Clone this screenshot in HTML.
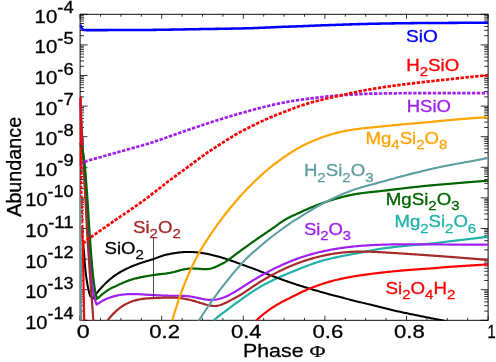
<!DOCTYPE html>
<html><head><meta charset="utf-8"><title>Abundance vs Phase</title>
<style>html,body{margin:0;padding:0;background:#fff;}svg{display:block;will-change:transform;}</style></head><body>
<svg width="496" height="362" viewBox="0 0 496 362">
<rect width="496" height="362" fill="#fff"/>
<defs><clipPath id="c"><rect x="79.50" y="14.30" width="409.20" height="306.40"/></clipPath></defs>
<path d="M80.10 320.30L80.10 315.70 M80.10 14.30L80.10 18.90 M100.50 320.30L100.50 317.90 M100.50 14.30L100.50 16.70 M120.90 320.30L120.90 317.90 M120.90 14.30L120.90 16.70 M141.30 320.30L141.30 317.90 M141.30 14.30L141.30 16.70 M161.70 320.30L161.70 315.70 M161.70 14.30L161.70 18.90 M182.10 320.30L182.10 317.90 M182.10 14.30L182.10 16.70 M202.50 320.30L202.50 317.90 M202.50 14.30L202.50 16.70 M222.90 320.30L222.90 317.90 M222.90 14.30L222.90 16.70 M243.30 320.30L243.30 315.70 M243.30 14.30L243.30 18.90 M263.70 320.30L263.70 317.90 M263.70 14.30L263.70 16.70 M284.10 320.30L284.10 317.90 M284.10 14.30L284.10 16.70 M304.50 320.30L304.50 317.90 M304.50 14.30L304.50 16.70 M324.90 320.30L324.90 315.70 M324.90 14.30L324.90 18.90 M345.30 320.30L345.30 317.90 M345.30 14.30L345.30 16.70 M365.70 320.30L365.70 317.90 M365.70 14.30L365.70 16.70 M386.10 320.30L386.10 317.90 M386.10 14.30L386.10 16.70 M406.50 320.30L406.50 315.70 M406.50 14.30L406.50 18.90 M426.90 320.30L426.90 317.90 M426.90 14.30L426.90 16.70 M447.30 320.30L447.30 317.90 M447.30 14.30L447.30 16.70 M467.70 320.30L467.70 317.90 M467.70 14.30L467.70 16.70 M488.10 320.30L488.10 315.70 M488.10 14.30L488.10 18.90 M80.10 14.30L87.50 14.30 M488.10 14.30L480.70 14.30 M80.10 35.69L84.00 35.69 M488.10 35.69L484.20 35.69 M80.10 30.30L84.00 30.30 M488.10 30.30L484.20 30.30 M80.10 26.48L84.00 26.48 M488.10 26.48L484.20 26.48 M80.10 23.51L84.00 23.51 M488.10 23.51L484.20 23.51 M80.10 21.09L84.00 21.09 M488.10 21.09L484.20 21.09 M80.10 19.04L84.00 19.04 M488.10 19.04L484.20 19.04 M80.10 17.27L84.00 17.27 M488.10 17.27L484.20 17.27 M80.10 15.70L84.00 15.70 M488.10 15.70L484.20 15.70 M80.10 44.90L87.50 44.90 M488.10 44.90L480.70 44.90 M80.10 66.29L84.00 66.29 M488.10 66.29L484.20 66.29 M80.10 60.90L84.00 60.90 M488.10 60.90L484.20 60.90 M80.10 57.08L84.00 57.08 M488.10 57.08L484.20 57.08 M80.10 54.11L84.00 54.11 M488.10 54.11L484.20 54.11 M80.10 51.69L84.00 51.69 M488.10 51.69L484.20 51.69 M80.10 49.64L84.00 49.64 M488.10 49.64L484.20 49.64 M80.10 47.87L84.00 47.87 M488.10 47.87L484.20 47.87 M80.10 46.30L84.00 46.30 M488.10 46.30L484.20 46.30 M80.10 75.50L87.50 75.50 M488.10 75.50L480.70 75.50 M80.10 96.89L84.00 96.89 M488.10 96.89L484.20 96.89 M80.10 91.50L84.00 91.50 M488.10 91.50L484.20 91.50 M80.10 87.68L84.00 87.68 M488.10 87.68L484.20 87.68 M80.10 84.71L84.00 84.71 M488.10 84.71L484.20 84.71 M80.10 82.29L84.00 82.29 M488.10 82.29L484.20 82.29 M80.10 80.24L84.00 80.24 M488.10 80.24L484.20 80.24 M80.10 78.47L84.00 78.47 M488.10 78.47L484.20 78.47 M80.10 76.90L84.00 76.90 M488.10 76.90L484.20 76.90 M80.10 106.10L87.50 106.10 M488.10 106.10L480.70 106.10 M80.10 127.49L84.00 127.49 M488.10 127.49L484.20 127.49 M80.10 122.10L84.00 122.10 M488.10 122.10L484.20 122.10 M80.10 118.28L84.00 118.28 M488.10 118.28L484.20 118.28 M80.10 115.31L84.00 115.31 M488.10 115.31L484.20 115.31 M80.10 112.89L84.00 112.89 M488.10 112.89L484.20 112.89 M80.10 110.84L84.00 110.84 M488.10 110.84L484.20 110.84 M80.10 109.07L84.00 109.07 M488.10 109.07L484.20 109.07 M80.10 107.50L84.00 107.50 M488.10 107.50L484.20 107.50 M80.10 136.70L87.50 136.70 M488.10 136.70L480.70 136.70 M80.10 158.09L84.00 158.09 M488.10 158.09L484.20 158.09 M80.10 152.70L84.00 152.70 M488.10 152.70L484.20 152.70 M80.10 148.88L84.00 148.88 M488.10 148.88L484.20 148.88 M80.10 145.91L84.00 145.91 M488.10 145.91L484.20 145.91 M80.10 143.49L84.00 143.49 M488.10 143.49L484.20 143.49 M80.10 141.44L84.00 141.44 M488.10 141.44L484.20 141.44 M80.10 139.67L84.00 139.67 M488.10 139.67L484.20 139.67 M80.10 138.10L84.00 138.10 M488.10 138.10L484.20 138.10 M80.10 167.30L87.50 167.30 M488.10 167.30L480.70 167.30 M80.10 188.69L84.00 188.69 M488.10 188.69L484.20 188.69 M80.10 183.30L84.00 183.30 M488.10 183.30L484.20 183.30 M80.10 179.48L84.00 179.48 M488.10 179.48L484.20 179.48 M80.10 176.51L84.00 176.51 M488.10 176.51L484.20 176.51 M80.10 174.09L84.00 174.09 M488.10 174.09L484.20 174.09 M80.10 172.04L84.00 172.04 M488.10 172.04L484.20 172.04 M80.10 170.27L84.00 170.27 M488.10 170.27L484.20 170.27 M80.10 168.70L84.00 168.70 M488.10 168.70L484.20 168.70 M80.10 197.90L87.50 197.90 M488.10 197.90L480.70 197.90 M80.10 219.29L84.00 219.29 M488.10 219.29L484.20 219.29 M80.10 213.90L84.00 213.90 M488.10 213.90L484.20 213.90 M80.10 210.08L84.00 210.08 M488.10 210.08L484.20 210.08 M80.10 207.11L84.00 207.11 M488.10 207.11L484.20 207.11 M80.10 204.69L84.00 204.69 M488.10 204.69L484.20 204.69 M80.10 202.64L84.00 202.64 M488.10 202.64L484.20 202.64 M80.10 200.87L84.00 200.87 M488.10 200.87L484.20 200.87 M80.10 199.30L84.00 199.30 M488.10 199.30L484.20 199.30 M80.10 228.50L87.50 228.50 M488.10 228.50L480.70 228.50 M80.10 249.89L84.00 249.89 M488.10 249.89L484.20 249.89 M80.10 244.50L84.00 244.50 M488.10 244.50L484.20 244.50 M80.10 240.68L84.00 240.68 M488.10 240.68L484.20 240.68 M80.10 237.71L84.00 237.71 M488.10 237.71L484.20 237.71 M80.10 235.29L84.00 235.29 M488.10 235.29L484.20 235.29 M80.10 233.24L84.00 233.24 M488.10 233.24L484.20 233.24 M80.10 231.47L84.00 231.47 M488.10 231.47L484.20 231.47 M80.10 229.90L84.00 229.90 M488.10 229.90L484.20 229.90 M80.10 259.10L87.50 259.10 M488.10 259.10L480.70 259.10 M80.10 280.49L84.00 280.49 M488.10 280.49L484.20 280.49 M80.10 275.10L84.00 275.10 M488.10 275.10L484.20 275.10 M80.10 271.28L84.00 271.28 M488.10 271.28L484.20 271.28 M80.10 268.31L84.00 268.31 M488.10 268.31L484.20 268.31 M80.10 265.89L84.00 265.89 M488.10 265.89L484.20 265.89 M80.10 263.84L84.00 263.84 M488.10 263.84L484.20 263.84 M80.10 262.07L84.00 262.07 M488.10 262.07L484.20 262.07 M80.10 260.50L84.00 260.50 M488.10 260.50L484.20 260.50 M80.10 289.70L87.50 289.70 M488.10 289.70L480.70 289.70 M80.10 311.09L84.00 311.09 M488.10 311.09L484.20 311.09 M80.10 305.70L84.00 305.70 M488.10 305.70L484.20 305.70 M80.10 301.88L84.00 301.88 M488.10 301.88L484.20 301.88 M80.10 298.91L84.00 298.91 M488.10 298.91L484.20 298.91 M80.10 296.49L84.00 296.49 M488.10 296.49L484.20 296.49 M80.10 294.44L84.00 294.44 M488.10 294.44L484.20 294.44 M80.10 292.67L84.00 292.67 M488.10 292.67L484.20 292.67 M80.10 291.10L84.00 291.10 M488.10 291.10L484.20 291.10 M80.10 320.30L87.50 320.30 M488.10 320.30L480.70 320.30" stroke="#000" stroke-width="0.80" fill="none"/>
<rect x="80.10" y="14.30" width="408.00" height="306.00" fill="none" stroke="#000" stroke-width="0.95"/>
<g clip-path="url(#c)" fill="none" stroke-linejoin="round" stroke-linecap="butt">
<path d="M213.75 320.50 L214.75 319.51 L215.75 318.59 L216.75 317.73 L217.76 316.92 L218.76 316.14 L219.76 315.40 L220.76 314.67 L221.76 313.94 L222.76 313.22 L223.76 312.48 L224.76 311.71 L225.77 310.92 L226.77 310.14 L227.77 309.38 L228.77 308.62 L229.77 307.87 L230.77 307.12 L231.77 306.38 L232.77 305.65 L233.78 304.92 L234.78 304.19 L235.78 303.47 L236.78 302.75 L237.78 302.02 L238.78 301.30 L239.78 300.57 L240.78 299.84 L241.79 299.10 L242.79 298.37 L243.79 297.65 L244.79 296.93 L245.79 296.21 L246.79 295.51 L247.79 294.80 L248.79 294.11 L249.80 293.42 L250.80 292.74 L251.80 292.07 L252.80 291.41 L253.80 290.75 L254.80 290.11 L255.80 289.47 L256.80 288.85 L257.81 288.23 L258.81 287.63 L259.81 287.04 L260.81 286.46 L261.81 285.89 L262.81 285.33 L263.81 284.78 L264.82 284.24 L265.82 283.70 L266.82 283.18 L267.82 282.66 L268.82 282.15 L269.82 281.65 L270.82 281.16 L271.82 280.67 L272.83 280.19 L273.83 279.72 L274.83 279.25 L275.83 278.79 L276.83 278.33 L277.83 277.88 L278.83 277.43 L279.83 276.99 L280.84 276.55 L281.84 276.12 L282.84 275.69 L283.84 275.26 L284.84 274.84 L285.84 274.42 L286.84 274.00 L287.84 273.59 L288.85 273.17 L289.85 272.76 L290.85 272.35 L291.85 271.94 L292.85 271.53 L293.85 271.12 L294.85 270.71 L295.85 270.30 L296.86 269.89 L297.86 269.49 L298.86 269.08 L299.86 268.68 L300.86 268.27 L301.86 267.87 L302.86 267.48 L303.86 267.08 L304.87 266.69 L305.87 266.31 L306.87 265.92 L307.87 265.54 L308.87 265.17 L309.87 264.80 L310.87 264.43 L311.88 264.07 L312.88 263.71 L313.88 263.37 L314.88 263.02 L315.88 262.69 L316.88 262.36 L317.88 262.03 L318.88 261.72 L319.89 261.41 L320.89 261.11 L321.89 260.81 L322.89 260.53 L323.89 260.26 L324.89 259.99 L325.89 259.73 L326.89 259.47 L327.90 259.22 L328.90 258.98 L329.90 258.74 L330.90 258.51 L331.90 258.28 L332.90 258.05 L333.90 257.83 L334.90 257.61 L335.91 257.39 L336.91 257.17 L337.91 256.95 L338.91 256.73 L339.91 256.52 L340.91 256.31 L341.91 256.11 L342.91 255.91 L343.92 255.71 L344.92 255.52 L345.92 255.33 L346.92 255.14 L347.92 254.95 L348.92 254.76 L349.92 254.58 L350.93 254.39 L351.93 254.21 L352.93 254.03 L353.93 253.85 L354.93 253.67 L355.93 253.49 L356.93 253.30 L357.93 253.12 L358.94 252.94 L359.94 252.76 L360.94 252.57 L361.94 252.37 L362.94 252.18 L363.94 251.98 L364.94 251.78 L365.94 251.58 L366.95 251.38 L367.95 251.18 L368.95 250.97 L369.95 250.77 L370.95 250.57 L371.95 250.37 L372.95 250.18 L373.95 249.98 L374.96 249.79 L375.96 249.61 L376.96 249.42 L377.96 249.24 L378.96 249.07 L379.96 248.91 L380.96 248.74 L381.96 248.59 L382.97 248.44 L383.97 248.31 L384.97 248.17 L385.97 248.04 L386.97 247.91 L387.97 247.79 L388.97 247.66 L389.97 247.54 L390.98 247.42 L391.98 247.30 L392.98 247.18 L393.98 247.07 L394.98 246.95 L395.98 246.84 L396.98 246.73 L397.99 246.62 L398.99 246.51 L399.99 246.41 L400.99 246.30 L401.99 246.20 L402.99 246.10 L403.99 246.00 L404.99 245.90 L406.00 245.80 L407.00 245.70 L408.00 245.60 L409.00 245.51 L410.00 245.41 L411.00 245.32 L412.00 245.23 L413.00 245.14 L414.01 245.05 L415.01 244.96 L416.01 244.87 L417.01 244.78 L418.01 244.69 L419.01 244.60 L420.01 244.51 L421.01 244.43 L422.02 244.34 L423.02 244.25 L424.02 244.17 L425.02 244.08 L426.02 244.00 L427.02 243.91 L428.02 243.82 L429.02 243.74 L430.03 243.65 L431.03 243.56 L432.03 243.46 L433.03 243.36 L434.03 243.25 L435.03 243.13 L436.03 243.01 L437.03 242.88 L438.04 242.75 L439.04 242.62 L440.04 242.49 L441.04 242.36 L442.04 242.22 L443.04 242.10 L444.04 241.97 L445.05 241.84 L446.05 241.73 L447.05 241.61 L448.05 241.49 L449.05 241.38 L450.05 241.26 L451.05 241.14 L452.05 241.02 L453.06 240.91 L454.06 240.79 L455.06 240.67 L456.06 240.56 L457.06 240.44 L458.06 240.32 L459.06 240.21 L460.06 240.09 L461.07 239.97 L462.07 239.85 L463.07 239.74 L464.07 239.62 L465.07 239.50 L466.07 239.38 L467.07 239.26 L468.07 239.14 L469.08 239.02 L470.08 238.90 L471.08 238.78 L472.08 238.66 L473.08 238.54 L474.08 238.42 L475.08 238.30 L476.08 238.18 L477.09 238.05 L478.09 237.93 L479.09 237.81 L480.09 237.68 L481.09 237.56 L482.09 237.43 L483.09 237.30 L484.09 237.18 L485.10 237.05 L486.10 236.92 L487.10 236.79 L488.10 236.67" stroke="#20b2aa" stroke-width="2.20"/>
<path d="M82.90 242.00 L83.17 244.01 L83.43 246.02 L83.63 248.03 L83.82 250.04 L83.98 252.05 L84.14 254.06 L84.28 256.07 L84.42 258.09 L84.56 260.10 L84.70 262.11 L84.86 264.12 L85.02 266.13 L85.21 268.14 L85.42 270.15 L85.64 272.16 L85.89 274.17 L86.15 276.18 L86.43 278.19 L86.73 280.20 L87.06 282.21 L87.41 284.23 L87.79 286.24 L88.19 288.25 L88.63 290.26 L89.09 292.27 L89.62 294.28 L90.48 296.29 L93.00 298.30 L93.00 298.28 L94.00 296.88 L95.00 295.52 L96.00 294.20 L97.00 292.91 L98.00 291.66 L99.00 290.45 L100.00 289.27 L101.00 288.13 L102.00 287.01 L103.00 285.94 L104.00 284.89 L105.00 283.87 L106.00 282.89 L107.00 281.94 L108.00 281.03 L109.00 280.14 L110.00 279.29 L111.00 278.47 L112.00 277.68 L113.00 276.91 L114.00 276.17 L115.00 275.46 L116.00 274.77 L117.00 274.11 L118.00 273.47 L119.00 272.85 L120.00 272.24 L121.00 271.66 L122.00 271.10 L123.00 270.55 L124.00 270.03 L125.00 269.51 L126.00 269.01 L127.00 268.53 L128.00 268.05 L129.00 267.59 L130.00 267.14 L131.00 266.71 L132.00 266.28 L133.00 265.87 L134.00 265.47 L135.00 265.09 L136.00 264.71 L137.00 264.34 L138.00 263.98 L139.00 263.63 L140.00 263.28 L141.00 262.95 L142.00 262.61 L143.00 262.29 L144.00 261.96 L145.00 261.65 L146.00 261.33 L147.00 261.03 L148.00 260.72 L149.00 260.42 L150.00 260.12 L151.00 259.82 L152.00 259.52 L153.00 259.21 L154.00 258.88 L155.00 258.52 L156.00 258.15 L157.00 257.77 L158.00 257.38 L159.00 257.00 L160.00 256.62 L161.00 256.26 L162.00 255.92 L163.00 255.60 L164.00 255.31 L165.00 255.05 L166.00 254.82 L167.00 254.59 L168.00 254.37 L169.00 254.16 L170.00 253.95 L171.00 253.75 L172.00 253.56 L173.00 253.38 L174.00 253.20 L175.00 253.04 L176.00 252.89 L177.00 252.74 L178.00 252.61 L179.00 252.49 L180.00 252.37 L181.00 252.27 L182.00 252.19 L183.00 252.11 L184.00 252.05 L185.00 252.00 L186.00 251.96 L187.00 251.94 L188.00 251.93 L189.00 251.93 L190.00 251.94 L191.00 251.97 L192.00 252.00 L193.00 252.05 L194.00 252.11 L195.00 252.19 L196.00 252.27 L197.00 252.36 L198.00 252.46 L199.00 252.58 L200.00 252.70 L201.00 252.84 L202.00 252.98 L203.00 253.14 L204.00 253.30 L205.00 253.47 L206.00 253.65 L207.00 253.84 L208.00 254.04 L209.00 254.25 L210.00 254.47 L211.00 254.69 L212.00 254.92 L213.00 255.16 L214.00 255.41 L215.00 255.66 L216.00 255.93 L217.00 256.19 L218.00 256.47 L219.00 256.75 L220.00 257.04 L221.00 257.33 L222.00 257.63 L223.00 257.94 L224.00 258.25 L225.00 258.57 L226.00 258.89 L227.00 259.22 L228.00 259.55 L229.00 259.88 L230.00 260.23 L231.00 260.57 L232.00 260.92 L233.00 261.27 L234.00 261.63 L235.00 261.99 L236.00 262.35 L237.00 262.72 L238.00 263.09 L239.00 263.46 L240.00 263.83 L241.00 264.20 L242.00 264.57 L243.00 264.94 L244.00 265.30 L245.00 265.66 L246.00 266.02 L247.00 266.38 L248.00 266.73 L249.00 267.09 L250.00 267.45 L251.00 267.80 L252.00 268.16 L253.00 268.53 L254.00 268.89 L255.00 269.26 L256.00 269.63 L257.00 270.01 L258.00 270.40 L259.00 270.78 L260.00 271.18 L261.00 271.58 L262.00 271.98 L263.00 272.38 L264.00 272.77 L265.00 273.17 L266.00 273.56 L267.00 273.95 L268.00 274.34 L269.00 274.73 L270.00 275.12 L271.00 275.50 L272.00 275.88 L273.00 276.26 L274.00 276.64 L275.00 277.01 L276.00 277.38 L277.00 277.75 L278.00 278.12 L279.00 278.48 L280.00 278.85 L281.00 279.21 L282.00 279.56 L283.00 279.92 L284.00 280.27 L285.00 280.63 L286.00 280.98 L287.00 281.32 L288.00 281.67 L289.00 282.01 L290.00 282.35 L291.00 282.69 L292.00 283.03 L293.00 283.36 L294.00 283.70 L295.00 284.03 L296.00 284.36 L297.00 284.68 L298.00 285.01 L299.00 285.33 L300.00 285.65 L301.00 285.97 L302.00 286.29 L303.00 286.60 L304.00 286.91 L305.00 287.23 L306.00 287.54 L307.00 287.84 L308.00 288.15 L309.00 288.45 L310.00 288.75 L311.00 289.05 L312.00 289.35 L313.00 289.65 L314.00 289.94 L315.00 290.23 L316.00 290.52 L317.00 290.81 L318.00 291.10 L319.00 291.39 L320.00 291.67 L321.00 291.95 L322.00 292.23 L323.00 292.51 L324.00 292.79 L325.00 293.07 L326.00 293.34 L327.00 293.62 L328.00 293.89 L329.00 294.16 L330.00 294.43 L331.00 294.70 L332.00 294.97 L333.00 295.24 L334.00 295.50 L335.00 295.77 L336.00 296.03 L337.00 296.30 L338.00 296.56 L339.00 296.82 L340.00 297.08 L341.00 297.34 L342.00 297.60 L343.00 297.86 L344.00 298.11 L345.00 298.37 L346.00 298.62 L347.00 298.88 L348.00 299.13 L349.00 299.38 L350.00 299.64 L351.00 299.89 L352.00 300.14 L353.00 300.39 L354.00 300.64 L355.00 300.89 L356.00 301.14 L357.00 301.39 L358.00 301.64 L359.00 301.89 L360.00 302.13 L361.00 302.38 L362.00 302.63 L363.00 302.88 L364.00 303.13 L365.00 303.37 L366.00 303.62 L367.00 303.87 L368.00 304.12 L369.00 304.36 L370.00 304.61 L371.00 304.85 L372.00 305.10 L373.00 305.34 L374.00 305.59 L375.00 305.83 L376.00 306.08 L377.00 306.32 L378.00 306.56 L379.00 306.80 L380.00 307.05 L381.00 307.29 L382.00 307.53 L383.00 307.77 L384.00 308.01 L385.00 308.25 L386.00 308.49 L387.00 308.73 L388.00 308.98 L389.00 309.23 L390.00 309.47 L391.00 309.72 L392.00 309.96 L393.00 310.20 L394.00 310.44 L395.00 310.68 L396.00 310.92 L397.00 311.15 L398.00 311.38 L399.00 311.61 L400.00 311.83 L401.00 312.04 L402.00 312.26 L403.00 312.47 L404.00 312.69 L405.00 312.90 L406.00 313.11 L407.00 313.32 L408.00 313.52 L409.00 313.73 L410.00 313.94 L411.00 314.14 L412.00 314.35 L413.00 314.55 L414.00 314.75 L415.00 314.96 L416.00 315.16 L417.00 315.36 L418.00 315.56 L419.00 315.76 L420.00 315.97 L421.00 316.17 L422.00 316.37 L423.00 316.57 L424.00 316.78 L425.00 316.98 L426.00 317.18 L427.00 317.39 L428.00 317.59 L429.00 317.80 L430.00 318.01 L431.00 318.21 L432.00 318.41 L433.00 318.60 L434.00 318.79 L435.00 318.97 L436.00 319.16 L437.00 319.34 L438.00 319.52 L439.00 319.71 L440.00 319.90 L441.00 320.09 L442.00 320.29 L443.00 320.49 L444.00 320.70 L445.00 320.92 L446.00 321.15" stroke="#000000" stroke-width="2.05"/>
<path d="M80.70 97.00 L80.90 140.00 L80.60 166.00" stroke="#ff0000" stroke-width="2.20"/>
<path d="M80.40 226.00 L80.75 228.02 L81.09 230.04 L81.42 232.06 L81.74 234.09 L82.02 236.11 L82.28 238.13 L82.51 240.15 L82.69 242.17 L82.82 244.19 L82.91 246.21 L82.96 248.23 L83.01 250.26 L83.05 252.28 L83.09 254.30 L83.12 256.32 L83.14 258.34 L83.17 260.36 L83.19 262.38 L83.22 264.40 L83.25 266.43 L83.27 268.45 L83.31 270.47 L83.34 272.49 L83.38 274.51 L83.41 276.53 L83.45 278.55 L83.48 280.57 L83.52 282.60 L83.55 284.62 L83.59 286.64 L83.62 288.66 L83.66 290.68 L83.69 292.70 L83.73 294.72 L83.76 296.74 L83.80 298.77 L83.84 300.79 L83.87 302.81 L83.91 304.83 L83.94 306.85 L83.98 308.87 L84.02 310.89 L84.05 312.91 L84.09 314.94 L84.13 316.96 L84.16 318.98 L84.20 321.00" stroke="#ff0000" stroke-width="2.20"/>
<path d="M255.80 320.96 L256.80 320.00 L257.80 319.06 L258.80 318.14 L259.81 317.25 L260.81 316.37 L261.81 315.52 L262.81 314.69 L263.81 313.88 L264.81 313.09 L265.81 312.31 L266.81 311.56 L267.82 310.82 L268.82 310.10 L269.82 309.39 L270.82 308.70 L271.82 308.03 L272.82 307.37 L273.82 306.72 L274.82 306.09 L275.83 305.47 L276.83 304.86 L277.83 304.27 L278.83 303.68 L279.83 303.11 L280.83 302.54 L281.83 301.99 L282.83 301.45 L283.84 300.95 L284.84 300.48 L285.84 300.02 L286.84 299.55 L287.84 299.09 L288.84 298.60 L289.84 298.07 L290.85 297.53 L291.85 296.99 L292.85 296.46 L293.85 295.93 L294.85 295.42 L295.85 294.91 L296.85 294.40 L297.85 293.91 L298.86 293.42 L299.86 292.94 L300.86 292.47 L301.86 292.00 L302.86 291.54 L303.86 291.09 L304.86 290.64 L305.86 290.20 L306.87 289.77 L307.87 289.34 L308.87 288.92 L309.87 288.51 L310.87 288.11 L311.87 287.71 L312.87 287.31 L313.88 286.93 L314.88 286.55 L315.88 286.18 L316.88 285.81 L317.88 285.45 L318.88 285.10 L319.88 284.76 L320.88 284.42 L321.89 284.08 L322.89 283.76 L323.89 283.44 L324.89 283.12 L325.89 282.80 L326.89 282.49 L327.89 282.19 L328.89 281.89 L329.90 281.60 L330.90 281.32 L331.90 281.04 L332.90 280.77 L333.90 280.51 L334.90 280.26 L335.90 280.01 L336.90 279.77 L337.91 279.54 L338.91 279.31 L339.91 279.08 L340.91 278.86 L341.91 278.64 L342.91 278.43 L343.91 278.22 L344.92 278.02 L345.92 277.82 L346.92 277.63 L347.92 277.44 L348.92 277.25 L349.92 277.07 L350.92 276.89 L351.92 276.71 L352.93 276.54 L353.93 276.37 L354.93 276.20 L355.93 276.04 L356.93 275.88 L357.93 275.72 L358.93 275.57 L359.93 275.42 L360.94 275.27 L361.94 275.12 L362.94 274.98 L363.94 274.84 L364.94 274.70 L365.94 274.56 L366.94 274.42 L367.94 274.29 L368.95 274.16 L369.95 274.03 L370.95 273.90 L371.95 273.77 L372.95 273.65 L373.95 273.52 L374.95 273.40 L375.96 273.28 L376.96 273.16 L377.96 273.04 L378.96 272.92 L379.96 272.80 L380.96 272.69 L381.96 272.57 L382.96 272.46 L383.97 272.34 L384.97 272.23 L385.97 272.12 L386.97 272.01 L387.97 271.90 L388.97 271.80 L389.97 271.69 L390.97 271.59 L391.98 271.48 L392.98 271.38 L393.98 271.28 L394.98 271.19 L395.98 271.09 L396.98 271.00 L397.98 270.90 L398.98 270.81 L399.99 270.72 L400.99 270.63 L401.99 270.54 L402.99 270.45 L403.99 270.36 L404.99 270.28 L405.99 270.20 L407.00 270.11 L408.00 270.03 L409.00 269.95 L410.00 269.87 L411.00 269.79 L412.00 269.72 L413.00 269.64 L414.00 269.57 L415.01 269.49 L416.01 269.42 L417.01 269.35 L418.01 269.28 L419.01 269.21 L420.01 269.14 L421.01 269.07 L422.01 269.00 L423.02 268.94 L424.02 268.87 L425.02 268.81 L426.02 268.74 L427.02 268.68 L428.02 268.62 L429.02 268.56 L430.03 268.50 L431.03 268.43 L432.03 268.36 L433.03 268.28 L434.03 268.20 L435.03 268.12 L436.03 268.03 L437.03 267.93 L438.04 267.84 L439.04 267.74 L440.04 267.65 L441.04 267.55 L442.04 267.46 L443.04 267.37 L444.04 267.28 L445.04 267.20 L446.05 267.12 L447.05 267.04 L448.05 266.97 L449.05 266.90 L450.05 266.82 L451.05 266.75 L452.05 266.68 L453.05 266.61 L454.06 266.55 L455.06 266.48 L456.06 266.41 L457.06 266.35 L458.06 266.28 L459.06 266.22 L460.06 266.15 L461.07 266.09 L462.07 266.03 L463.07 265.97 L464.07 265.90 L465.07 265.84 L466.07 265.78 L467.07 265.72 L468.07 265.66 L469.08 265.59 L470.08 265.53 L471.08 265.47 L472.08 265.41 L473.08 265.35 L474.08 265.28 L475.08 265.22 L476.08 265.16 L477.09 265.09 L478.09 265.03 L479.09 264.96 L480.09 264.90 L481.09 264.83 L482.09 264.76 L483.09 264.69 L484.09 264.63 L485.10 264.56 L486.10 264.48 L487.10 264.41 L488.10 264.34" stroke="#ff0000" stroke-width="2.20"/>
<path d="M80.20 100.00 L80.31 102.01 L80.42 104.01 L80.53 106.02 L80.64 108.02 L80.75 110.03 L80.86 112.04 L80.97 114.04 L81.08 116.05 L81.19 118.05 L81.30 120.06 L81.41 122.06 L81.52 124.07 L81.63 126.08 L81.74 128.08 L81.85 130.09 L81.96 132.09 L82.07 134.10 L82.18 136.11 L82.30 138.11 L82.41 140.12 L82.52 142.12 L82.63 144.13 L82.74 146.14 L82.85 148.14 L82.96 150.15 L83.06 152.15 L83.17 154.16 L83.28 156.16 L83.39 158.17 L83.50 160.18 L83.61 162.18 L83.72 164.19 L83.83 166.19 L83.94 168.20 L84.05 170.21 L84.16 172.21 L84.27 174.22 L84.39 176.22 L84.50 178.23 L84.62 180.24 L84.73 182.24 L84.85 184.25 L84.97 186.25 L85.09 188.26 L85.22 190.26 L85.34 192.27 L85.47 194.28 L85.59 196.28 L85.72 198.29 L85.85 200.29 L85.98 202.30 L86.11 204.31 L86.25 206.31 L86.38 208.32 L86.52 210.32 L86.66 212.33 L86.79 214.34 L86.93 216.34 L87.07 218.35 L87.21 220.35 L87.35 222.36 L87.50 224.36 L87.64 226.37 L87.78 228.38 L87.93 230.38 L88.07 232.39 L88.22 234.39 L88.36 236.40 L88.51 238.41 L88.65 240.41 L88.80 242.42 L88.95 244.42 L89.10 246.43 L89.25 248.44 L89.40 250.44 L89.56 252.45 L89.71 254.45 L89.87 256.46 L90.03 258.46 L90.19 260.47 L90.36 262.48 L90.52 264.48 L90.69 266.49 L90.87 268.49 L91.04 270.50 L91.21 272.51 L91.38 274.51 L91.54 276.52 L91.71 278.52 L91.88 280.53 L92.07 282.54 L92.26 284.54 L92.48 286.55 L92.72 288.55 L92.99 290.56 L93.29 292.56 L93.68 294.57 L94.15 296.58 L94.70 298.58 L95.30 300.59 L95.94 302.59 L96.60 304.60 L96.60 304.60 L97.60 303.90 L98.60 303.22 L99.60 302.58 L100.61 301.97 L101.61 301.38 L102.61 300.82 L103.61 300.29 L104.61 299.79 L105.61 299.32 L106.61 298.86 L107.61 298.44 L108.62 298.04 L109.62 297.66 L110.62 297.30 L111.62 296.97 L112.62 296.66 L113.62 296.37 L114.62 296.10 L115.62 295.85 L116.63 295.62 L117.63 295.41 L118.63 295.22 L119.63 295.04 L120.63 294.88 L121.63 294.74 L122.63 294.62 L123.63 294.50 L124.64 294.41 L125.64 294.32 L126.64 294.25 L127.64 294.20 L128.64 294.15 L129.64 294.12 L130.64 294.09 L131.64 294.08 L132.65 294.08 L133.65 294.08 L134.65 294.09 L135.65 294.11 L136.65 294.14 L137.65 294.18 L138.65 294.22 L139.65 294.26 L140.66 294.31 L141.66 294.36 L142.66 294.42 L143.66 294.48 L144.66 294.54 L145.66 294.60 L146.66 294.66 L147.67 294.73 L148.67 294.79 L149.67 294.85 L150.67 294.92 L151.67 294.98 L152.67 295.04 L153.67 295.10 L154.67 295.16 L155.68 295.21 L156.68 295.27 L157.68 295.32 L158.68 295.37 L159.68 295.42 L160.68 295.47 L161.68 295.51 L162.68 295.56 L163.69 295.59 L164.69 295.63 L165.69 295.66 L166.69 295.69 L167.69 295.71 L168.69 295.73 L169.69 295.75 L170.69 295.76 L171.70 295.76 L172.70 295.76 L173.70 295.76 L174.70 295.76 L175.70 295.75 L176.70 295.75 L177.70 295.75 L178.70 295.75 L179.71 295.76 L180.71 295.77 L181.71 295.79 L182.71 295.82 L183.71 295.87 L184.71 295.92 L185.71 295.99 L186.72 296.07 L187.72 296.18 L188.72 296.30 L189.72 296.43 L190.72 296.58 L191.72 296.74 L192.72 296.91 L193.72 297.09 L194.73 297.29 L195.73 297.49 L196.73 297.69 L197.73 297.91 L198.73 298.12 L199.73 298.34 L200.73 298.56 L201.73 298.77 L202.74 298.97 L203.74 299.16 L204.74 299.34 L205.74 299.50 L206.74 299.64 L207.74 299.76 L208.74 299.86 L209.74 299.93 L210.75 299.97 L211.75 299.97 L212.75 299.94 L213.75 299.87 L214.75 299.77 L215.75 299.63 L216.75 299.46 L217.75 299.26 L218.76 299.03 L219.76 298.76 L220.76 298.47 L221.76 298.14 L222.76 297.79 L223.76 297.41 L224.76 297.01 L225.76 296.58 L226.77 296.13 L227.77 295.66 L228.77 295.16 L229.77 294.65 L230.77 294.12 L231.77 293.57 L232.77 293.01 L233.78 292.44 L234.78 291.85 L235.78 291.25 L236.78 290.64 L237.78 290.02 L238.78 289.39 L239.78 288.76 L240.78 288.13 L241.79 287.48 L242.79 286.84 L243.79 286.20 L244.79 285.55 L245.79 284.91 L246.79 284.27 L247.79 283.64 L248.79 283.00 L249.80 282.38 L250.80 281.76 L251.80 281.14 L252.80 280.53 L253.80 279.92 L254.80 279.32 L255.80 278.72 L256.80 278.13 L257.81 277.54 L258.81 276.96 L259.81 276.38 L260.81 275.81 L261.81 275.24 L262.81 274.68 L263.81 274.12 L264.81 273.57 L265.82 273.02 L266.82 272.48 L267.82 271.94 L268.82 271.41 L269.82 270.89 L270.82 270.37 L271.82 269.86 L272.83 269.35 L273.83 268.84 L274.83 268.35 L275.83 267.85 L276.83 267.37 L277.83 266.89 L278.83 266.41 L279.83 265.94 L280.84 265.48 L281.84 265.02 L282.84 264.57 L283.84 264.13 L284.84 263.69 L285.84 263.25 L286.84 262.82 L287.84 262.40 L288.85 261.99 L289.85 261.58 L290.85 261.18 L291.85 260.78 L292.85 260.39 L293.85 260.00 L294.85 259.63 L295.85 259.26 L296.86 258.89 L297.86 258.53 L298.86 258.18 L299.86 257.83 L300.86 257.49 L301.86 257.15 L302.86 256.82 L303.86 256.50 L304.87 256.18 L305.87 255.86 L306.87 255.56 L307.87 255.26 L308.87 254.96 L309.87 254.67 L310.87 254.38 L311.87 254.10 L312.88 253.83 L313.88 253.56 L314.88 253.29 L315.88 253.03 L316.88 252.78 L317.88 252.53 L318.88 252.29 L319.89 252.05 L320.89 251.81 L321.89 251.58 L322.89 251.36 L323.89 251.14 L324.89 250.92 L325.89 250.71 L326.89 250.51 L327.90 250.30 L328.90 250.11 L329.90 249.91 L330.90 249.73 L331.90 249.54 L332.90 249.36 L333.90 249.19 L334.90 249.01 L335.91 248.85 L336.91 248.68 L337.91 248.52 L338.91 248.37 L339.91 248.22 L340.91 248.07 L341.91 247.93 L342.91 247.79 L343.92 247.65 L344.92 247.52 L345.92 247.39 L346.92 247.26 L347.92 247.14 L348.92 247.02 L349.92 246.91 L350.92 246.79 L351.93 246.69 L352.93 246.58 L353.93 246.48 L354.93 246.38 L355.93 246.28 L356.93 246.19 L357.93 246.10 L358.94 246.01 L359.94 245.93 L360.94 245.85 L361.94 245.77 L362.94 245.69 L363.94 245.62 L364.94 245.55 L365.94 245.48 L366.95 245.41 L367.95 245.35 L368.95 245.29 L369.95 245.23 L370.95 245.18 L371.95 245.12 L372.95 245.07 L373.95 245.02 L374.96 244.97 L375.96 244.93 L376.96 244.88 L377.96 244.84 L378.96 244.80 L379.96 244.77 L380.96 244.73 L381.96 244.70 L382.97 244.66 L383.97 244.63 L384.97 244.60 L385.97 244.58 L386.97 244.55 L387.97 244.52 L388.97 244.50 L389.97 244.48 L390.98 244.46 L391.98 244.44 L392.98 244.42 L393.98 244.40 L394.98 244.39 L395.98 244.37 L396.98 244.36 L397.98 244.35 L398.99 244.33 L399.99 244.32 L400.99 244.31 L401.99 244.30 L402.99 244.30 L403.99 244.29 L404.99 244.28 L406.00 244.28 L407.00 244.27 L408.00 244.27 L409.00 244.27 L410.00 244.26 L411.00 244.26 L412.00 244.26 L413.00 244.26 L414.01 244.26 L415.01 244.26 L416.01 244.27 L417.01 244.27 L418.01 244.27 L419.01 244.28 L420.01 244.28 L421.01 244.29 L422.02 244.29 L423.02 244.30 L424.02 244.30 L425.02 244.31 L426.02 244.32 L427.02 244.32 L428.02 244.33 L429.02 244.34 L430.03 244.35 L431.03 244.36 L432.03 244.37 L433.03 244.38 L434.03 244.39 L435.03 244.40 L436.03 244.41 L437.03 244.42 L438.04 244.43 L439.04 244.44 L440.04 244.45 L441.04 244.46 L442.04 244.47 L443.04 244.48 L444.04 244.49 L445.05 244.50 L446.05 244.51 L447.05 244.52 L448.05 244.54 L449.05 244.55 L450.05 244.56 L451.05 244.57 L452.05 244.58 L453.06 244.59 L454.06 244.60 L455.06 244.61 L456.06 244.62 L457.06 244.62 L458.06 244.63 L459.06 244.64 L460.06 244.65 L461.07 244.66 L462.07 244.66 L463.07 244.67 L464.07 244.68 L465.07 244.68 L466.07 244.69 L467.07 244.69 L468.07 244.70 L469.08 244.70 L470.08 244.71 L471.08 244.71 L472.08 244.71 L473.08 244.71 L474.08 244.71 L475.08 244.71 L476.08 244.71 L477.09 244.71 L478.09 244.71 L479.09 244.71 L480.09 244.70 L481.09 244.70 L482.09 244.69 L483.09 244.69 L484.09 244.68 L485.10 244.67 L486.10 244.66 L487.10 244.65 L488.10 244.64" stroke="#a020f0" stroke-width="2.20"/>
<path d="M80.00 98.00 L80.10 100.01 L80.20 102.02 L80.31 104.03 L80.41 106.04 L80.51 108.05 L80.62 110.05 L80.72 112.06 L80.83 114.07 L80.93 116.08 L81.03 118.09 L81.14 120.10 L81.25 122.11 L81.35 124.12 L81.46 126.13 L81.56 128.14 L81.67 130.14 L81.78 132.15 L81.89 134.16 L81.99 136.17 L82.10 138.18 L82.21 140.19 L82.32 142.20 L82.43 144.21 L82.54 146.22 L82.65 148.23 L82.77 150.23 L82.88 152.24 L82.99 154.25 L83.11 156.26 L83.22 158.27 L83.34 160.28 L83.45 162.29 L83.57 164.30 L83.68 166.31 L83.80 168.32 L83.91 170.32 L84.03 172.33 L84.14 174.34 L84.25 176.35 L84.37 178.36 L84.48 180.37 L84.59 182.38 L84.70 184.39 L84.81 186.40 L84.92 188.41 L85.02 190.41 L85.13 192.42 L85.23 194.43 L85.33 196.44 L85.43 198.45 L85.53 200.46 L85.62 202.47 L85.72 204.48 L85.81 206.49 L85.91 208.50 L86.01 210.50 L86.10 212.51 L86.20 214.52 L86.30 216.53 L86.40 218.54 L86.50 220.55 L86.60 222.56 L86.70 224.57 L86.81 226.58 L86.92 228.59 L87.03 230.59 L87.15 232.60 L87.27 234.61 L87.39 236.62 L87.51 238.63 L87.63 240.64 L87.76 242.65 L87.89 244.66 L88.02 246.67 L88.15 248.68 L88.28 250.68 L88.41 252.69 L88.55 254.70 L88.68 256.71 L88.82 258.72 L88.96 260.73 L89.10 262.74 L89.24 264.75 L89.37 266.76 L89.51 268.77 L89.65 270.77 L89.80 272.78 L89.94 274.79 L90.09 276.80 L90.23 278.81 L90.38 280.82 L90.53 282.83 L90.69 284.84 L90.84 286.85 L90.99 288.86 L91.15 290.86 L91.30 292.87 L91.46 294.88 L91.61 296.89 L91.76 298.90 L91.92 300.91 L92.07 302.92 L92.22 304.93 L92.37 306.94 L92.52 308.95 L92.67 310.95 L92.82 312.96 L92.96 314.97 L93.11 316.98 L93.25 318.99 L93.40 321.00" stroke="#a52a2a" stroke-width="2.20"/>
<path d="M107.20 320.99 L108.20 319.68 L109.20 318.41 L110.21 317.20 L111.21 316.04 L112.21 314.93 L113.21 313.86 L114.22 312.85 L115.22 311.88 L116.22 310.95 L117.22 310.07 L118.23 309.23 L119.23 308.43 L120.23 307.67 L121.23 306.95 L122.24 306.27 L123.24 305.62 L124.24 305.01 L125.24 304.44 L126.25 303.90 L127.25 303.39 L128.25 302.92 L129.25 302.47 L130.25 302.06 L131.26 301.67 L132.26 301.31 L133.26 300.98 L134.26 300.67 L135.27 300.38 L136.27 300.12 L137.27 299.88 L138.27 299.66 L139.28 299.46 L140.28 299.28 L141.28 299.11 L142.28 298.96 L143.29 298.83 L144.29 298.71 L145.29 298.60 L146.29 298.51 L147.29 298.42 L148.30 298.35 L149.30 298.28 L150.30 298.22 L151.30 298.17 L152.31 298.12 L153.31 298.08 L154.31 298.04 L155.31 298.00 L156.32 297.96 L157.32 297.92 L158.32 297.89 L159.32 297.85 L160.33 297.81 L161.33 297.77 L162.33 297.73 L163.33 297.70 L164.34 297.66 L165.34 297.63 L166.34 297.61 L167.34 297.59 L168.34 297.58 L169.35 297.57 L170.35 297.57 L171.35 297.58 L172.35 297.59 L173.36 297.62 L174.36 297.66 L175.36 297.70 L176.36 297.76 L177.37 297.83 L178.37 297.91 L179.37 298.01 L180.37 298.12 L181.38 298.25 L182.38 298.39 L183.38 298.55 L184.38 298.72 L185.38 298.91 L186.39 299.11 L187.39 299.33 L188.39 299.56 L189.39 299.80 L190.40 300.05 L191.40 300.31 L192.40 300.57 L193.40 300.85 L194.41 301.13 L195.41 301.42 L196.41 301.72 L197.41 302.01 L198.42 302.32 L199.42 302.62 L200.42 302.93 L201.42 303.24 L202.43 303.55 L203.43 303.85 L204.43 304.16 L205.43 304.45 L206.43 304.73 L207.44 304.99 L208.44 305.23 L209.44 305.45 L210.44 305.63 L211.45 305.79 L212.45 305.90 L213.45 305.97 L214.45 306.00 L215.46 305.97 L216.46 305.89 L217.46 305.75 L218.46 305.55 L219.47 305.30 L220.47 304.99 L221.47 304.63 L222.47 304.24 L223.47 303.82 L224.48 303.36 L225.48 302.89 L226.48 302.40 L227.48 301.90 L228.49 301.40 L229.49 300.90 L230.49 300.39 L231.49 299.87 L232.50 299.35 L233.50 298.82 L234.50 298.28 L235.50 297.74 L236.51 297.18 L237.51 296.62 L238.51 296.04 L239.51 295.45 L240.51 294.85 L241.52 294.24 L242.52 293.61 L243.52 292.96 L244.52 292.31 L245.53 291.64 L246.53 290.96 L247.53 290.28 L248.53 289.60 L249.54 288.91 L250.54 288.22 L251.54 287.54 L252.54 286.86 L253.55 286.18 L254.55 285.52 L255.55 284.86 L256.55 284.21 L257.56 283.56 L258.56 282.92 L259.56 282.29 L260.56 281.67 L261.56 281.05 L262.57 280.44 L263.57 279.84 L264.57 279.24 L265.57 278.65 L266.58 278.07 L267.58 277.49 L268.58 276.92 L269.58 276.36 L270.59 275.81 L271.59 275.26 L272.59 274.72 L273.59 274.18 L274.60 273.65 L275.60 273.13 L276.60 272.61 L277.60 272.11 L278.61 271.60 L279.61 271.11 L280.61 270.62 L281.61 270.14 L282.61 269.66 L283.62 269.19 L284.62 268.73 L285.62 268.27 L286.62 267.82 L287.63 267.38 L288.63 266.94 L289.63 266.51 L290.63 266.08 L291.64 265.67 L292.64 265.25 L293.64 264.85 L294.64 264.45 L295.65 264.06 L296.65 263.67 L297.65 263.29 L298.65 262.91 L299.65 262.55 L300.66 262.18 L301.66 261.83 L302.66 261.48 L303.66 261.14 L304.67 260.80 L305.67 260.47 L306.67 260.14 L307.67 259.82 L308.68 259.51 L309.68 259.20 L310.68 258.90 L311.68 258.61 L312.69 258.32 L313.69 258.04 L314.69 257.76 L315.69 257.49 L316.69 257.23 L317.70 256.97 L318.70 256.72 L319.70 256.48 L320.70 256.24 L321.71 256.01 L322.71 255.78 L323.71 255.56 L324.71 255.34 L325.72 255.14 L326.72 254.93 L327.72 254.74 L328.72 254.55 L329.73 254.36 L330.73 254.19 L331.73 254.01 L332.73 253.85 L333.74 253.69 L334.74 253.53 L335.74 253.39 L336.74 253.25 L337.74 253.11 L338.75 252.98 L339.75 252.86 L340.75 252.74 L341.75 252.63 L342.76 252.52 L343.76 252.42 L344.76 252.33 L345.76 252.24 L346.77 252.16 L347.77 252.09 L348.77 252.02 L349.77 251.96 L350.78 251.90 L351.78 251.85 L352.78 251.80 L353.78 251.76 L354.79 251.72 L355.79 251.69 L356.79 251.67 L357.79 251.64 L358.79 251.63 L359.80 251.62 L360.80 251.61 L361.80 251.61 L362.80 251.61 L363.81 251.61 L364.81 251.62 L365.81 251.64 L366.81 251.65 L367.82 251.67 L368.82 251.70 L369.82 251.72 L370.82 251.75 L371.83 251.78 L372.83 251.82 L373.83 251.86 L374.83 251.90 L375.83 251.94 L376.84 251.99 L377.84 252.04 L378.84 252.09 L379.84 252.14 L380.85 252.19 L381.85 252.25 L382.85 252.31 L383.85 252.36 L384.86 252.42 L385.86 252.48 L386.86 252.55 L387.86 252.61 L388.87 252.67 L389.87 252.74 L390.87 252.80 L391.87 252.86 L392.88 252.93 L393.88 252.99 L394.88 253.06 L395.88 253.13 L396.88 253.19 L397.89 253.26 L398.89 253.32 L399.89 253.39 L400.89 253.45 L401.90 253.52 L402.90 253.59 L403.90 253.65 L404.90 253.72 L405.91 253.78 L406.91 253.85 L407.91 253.92 L408.91 253.98 L409.92 254.05 L410.92 254.12 L411.92 254.19 L412.92 254.25 L413.92 254.32 L414.93 254.39 L415.93 254.46 L416.93 254.52 L417.93 254.59 L418.94 254.66 L419.94 254.73 L420.94 254.80 L421.94 254.87 L422.95 254.94 L423.95 255.01 L424.95 255.08 L425.95 255.15 L426.96 255.22 L427.96 255.29 L428.96 255.36 L429.96 255.43 L430.96 255.50 L431.97 255.57 L432.97 255.64 L433.97 255.71 L434.97 255.78 L435.98 255.85 L436.98 255.93 L437.98 256.00 L438.98 256.07 L439.99 256.14 L440.99 256.22 L441.99 256.29 L442.99 256.36 L444.00 256.44 L445.00 256.51 L446.00 256.59 L447.00 256.66 L448.01 256.74 L449.01 256.81 L450.01 256.89 L451.01 256.96 L452.01 257.04 L453.02 257.12 L454.02 257.19 L455.02 257.27 L456.02 257.35 L457.03 257.42 L458.03 257.50 L459.03 257.58 L460.03 257.66 L461.04 257.74 L462.04 257.82 L463.04 257.90 L464.04 257.98 L465.05 258.06 L466.05 258.14 L467.05 258.22 L468.05 258.30 L469.06 258.38 L470.06 258.46 L471.06 258.54 L472.06 258.63 L473.06 258.71 L474.07 258.79 L475.07 258.88 L476.07 258.96 L477.07 259.05 L478.08 259.13 L479.08 259.22 L480.08 259.30 L481.08 259.39 L482.09 259.47 L483.09 259.56 L484.09 259.65 L485.09 259.74 L486.10 259.82 L487.10 259.91 L488.10 260.00" stroke="#a52a2a" stroke-width="2.20"/>
<path d="M79.50 143.00 L80.50 145.00 L81.47 147.00 L82.25 149.00 L82.70 151.00 L83.07 153.00 L83.41 155.00 L83.72 157.00 L84.01 159.00 L84.27 161.00 L84.52 163.00 L84.75 165.00 L84.96 167.00 L85.15 169.00 L85.33 171.00 L85.51 173.00 L85.67 175.00 L85.82 177.00 L85.97 179.00 L86.12 181.00 L86.27 183.00 L86.41 185.00 L86.56 187.00 L86.72 189.00 L86.88 191.00 L87.03 193.00 L87.18 195.00 L87.33 197.00 L87.46 199.00 L87.60 201.00 L87.72 203.00 L87.85 205.00 L87.97 207.00 L88.09 209.00 L88.21 211.00 L88.33 213.00 L88.45 215.00 L88.57 217.00 L88.69 219.00 L88.81 221.00 L88.93 223.00 L89.06 225.00 L89.19 227.00 L89.33 229.00 L89.47 231.00 L89.61 233.00 L89.75 235.00 L89.89 237.00 L90.03 239.00 L90.17 241.00 L90.31 243.00 L90.45 245.00 L90.59 247.00 L90.74 249.00 L90.89 251.00 L91.04 253.00 L91.19 255.00 L91.35 257.00 L91.51 259.00 L91.68 261.00 L91.85 263.00 L92.03 265.00 L92.21 267.00 L92.40 269.00 L92.60 271.00 L92.80 273.00 L93.01 275.00 L93.23 277.00 L93.45 279.00 L93.69 281.01 L93.95 283.01 L94.23 285.01 L94.52 287.01 L94.83 289.02 L95.18 291.02 L95.59 293.03 L96.06 295.04 L96.57 297.05 L97.10 299.06 L97.10 299.06 L98.10 298.06 L99.10 297.11 L100.10 296.19 L101.10 295.30 L102.10 294.45 L103.10 293.64 L104.10 292.86 L105.10 292.10 L106.10 291.38 L107.10 290.69 L108.10 290.03 L109.10 289.41 L110.10 288.84 L111.10 288.31 L112.10 287.82 L113.10 287.34 L114.10 286.88 L115.10 286.42 L116.10 285.96 L117.10 285.49 L118.10 285.02 L119.10 284.55 L120.10 284.09 L121.10 283.63 L122.10 283.18 L123.10 282.75 L124.10 282.32 L125.10 281.90 L126.10 281.50 L127.10 281.11 L128.10 280.73 L129.10 280.37 L130.10 280.02 L131.10 279.69 L132.10 279.38 L133.10 279.08 L134.10 278.81 L135.10 278.55 L136.10 278.31 L137.10 278.07 L138.10 277.84 L139.10 277.62 L140.10 277.41 L141.10 277.20 L142.10 277.00 L143.10 276.81 L144.10 276.62 L145.10 276.43 L146.10 276.25 L147.10 276.08 L148.10 275.91 L149.10 275.74 L150.10 275.58 L151.10 275.42 L152.10 275.27 L153.10 275.12 L154.10 274.97 L155.10 274.82 L156.10 274.68 L157.10 274.55 L158.10 274.42 L159.10 274.30 L160.10 274.19 L161.10 274.08 L162.10 273.96 L163.10 273.85 L164.10 273.73 L165.10 273.61 L166.10 273.48 L167.10 273.34 L168.10 273.19 L169.10 273.03 L170.10 272.85 L171.10 272.66 L172.10 272.44 L173.10 272.21 L174.10 271.96 L175.10 271.69 L176.10 271.40 L177.10 271.12 L178.10 270.84 L179.10 270.57 L180.10 270.30 L181.10 270.04 L182.10 269.79 L183.10 269.56 L184.10 269.34 L185.10 269.15 L186.10 268.98 L187.10 268.84 L188.10 268.72 L189.10 268.63 L190.10 268.57 L191.10 268.53 L192.10 268.51 L193.10 268.52 L194.10 268.54 L195.10 268.57 L196.10 268.62 L197.10 268.68 L198.10 268.75 L199.10 268.82 L200.10 268.89 L201.10 268.97 L202.10 269.03 L203.10 269.08 L204.10 269.11 L205.10 269.12 L206.10 269.11 L207.10 269.07 L208.10 268.99 L209.10 268.87 L210.10 268.71 L211.10 268.50 L212.10 268.24 L213.10 267.92 L214.10 267.55 L215.10 267.13 L216.10 266.69 L217.10 266.24 L218.10 265.78 L219.10 265.30 L220.10 264.82 L221.10 264.31 L222.10 263.79 L223.10 263.24 L224.10 262.67 L225.10 262.07 L226.10 261.42 L227.10 260.75 L228.10 260.06 L229.10 259.37 L230.10 258.66 L231.10 257.94 L232.10 257.21 L233.10 256.47 L234.10 255.73 L235.10 254.98 L236.10 254.23 L237.10 253.47 L238.10 252.72 L239.10 251.96 L240.10 251.21 L241.10 250.45 L242.10 249.71 L243.10 248.96 L244.10 248.22 L245.10 247.49 L246.10 246.77 L247.10 246.04 L248.10 245.32 L249.10 244.60 L250.10 243.88 L251.10 243.17 L252.10 242.46 L253.10 241.75 L254.10 241.04 L255.10 240.34 L256.10 239.64 L257.10 238.94 L258.10 238.25 L259.10 237.56 L260.10 236.87 L261.10 236.19 L262.10 235.51 L263.10 234.83 L264.10 234.15 L265.10 233.48 L266.10 232.81 L267.10 232.14 L268.10 231.46 L269.10 230.78 L270.10 230.09 L271.10 229.40 L272.10 228.70 L273.10 227.99 L274.10 227.28 L275.10 226.56 L276.10 225.84 L277.10 225.11 L278.10 224.39 L279.10 223.66 L280.10 222.94 L281.10 222.24 L282.10 221.56 L283.10 220.91 L284.10 220.29 L285.10 219.69 L286.10 219.12 L287.10 218.56 L288.10 218.03 L289.10 217.51 L290.10 217.01 L291.10 216.52 L292.10 216.05 L293.10 215.59 L294.10 215.13 L295.10 214.69 L296.10 214.24 L297.10 213.80 L298.10 213.34 L299.10 212.89 L300.10 212.42 L301.10 211.94 L302.10 211.48 L303.10 211.01 L304.10 210.55 L305.10 210.10 L306.10 209.65 L307.10 209.21 L308.10 208.77 L309.10 208.34 L310.10 207.91 L311.10 207.49 L312.10 207.07 L313.10 206.66 L314.10 206.26 L315.10 205.86 L316.10 205.46 L317.10 205.08 L318.10 204.70 L319.10 204.32 L320.10 203.95 L321.10 203.60 L322.10 203.24 L323.10 202.89 L324.10 202.55 L325.10 202.21 L326.10 201.87 L327.10 201.53 L328.10 201.20 L329.10 200.87 L330.10 200.55 L331.10 200.23 L332.10 199.92 L333.10 199.61 L334.10 199.31 L335.10 199.01 L336.10 198.71 L337.10 198.42 L338.10 198.14 L339.10 197.86 L340.10 197.59 L341.10 197.32 L342.10 197.06 L343.10 196.80 L344.10 196.55 L345.10 196.31 L346.10 196.07 L347.10 195.84 L348.10 195.62 L349.10 195.40 L350.10 195.18 L351.10 194.97 L352.10 194.76 L353.10 194.57 L354.10 194.38 L355.10 194.19 L356.10 194.02 L357.10 193.85 L358.10 193.69 L359.10 193.54 L360.10 193.39 L361.10 193.25 L362.10 193.11 L363.10 192.98 L364.10 192.86 L365.10 192.73 L366.10 192.61 L367.10 192.50 L368.10 192.39 L369.10 192.28 L370.10 192.17 L371.10 192.06 L372.10 191.96 L373.10 191.85 L374.10 191.75 L375.10 191.65 L376.10 191.54 L377.10 191.44 L378.10 191.33 L379.10 191.22 L380.10 191.12 L381.10 191.00 L382.10 190.89 L383.10 190.77 L384.10 190.65 L385.10 190.54 L386.10 190.42 L387.10 190.30 L388.10 190.18 L389.10 190.06 L390.10 189.94 L391.10 189.82 L392.10 189.70 L393.10 189.57 L394.10 189.45 L395.10 189.33 L396.10 189.21 L397.10 189.09 L398.10 188.97 L399.10 188.85 L400.10 188.72 L401.10 188.60 L402.10 188.48 L403.10 188.37 L404.10 188.25 L405.10 188.13 L406.10 188.01 L407.10 187.90 L408.10 187.78 L409.10 187.67 L410.10 187.55 L411.10 187.44 L412.10 187.33 L413.10 187.22 L414.10 187.12 L415.10 187.01 L416.10 186.90 L417.10 186.80 L418.10 186.69 L419.10 186.58 L420.10 186.47 L421.10 186.37 L422.10 186.26 L423.10 186.16 L424.10 186.05 L425.10 185.95 L426.10 185.85 L427.10 185.75 L428.10 185.65 L429.10 185.56 L430.10 185.46 L431.10 185.37 L432.10 185.28 L433.10 185.19 L434.10 185.10 L435.10 185.01 L436.10 184.93 L437.10 184.84 L438.10 184.75 L439.10 184.67 L440.10 184.59 L441.10 184.50 L442.10 184.42 L443.10 184.34 L444.10 184.25 L445.10 184.17 L446.10 184.09 L447.10 184.00 L448.10 183.92 L449.10 183.83 L450.10 183.75 L451.10 183.66 L452.10 183.58 L453.10 183.49 L454.10 183.41 L455.10 183.32 L456.10 183.23 L457.10 183.15 L458.10 183.06 L459.10 182.98 L460.10 182.89 L461.10 182.81 L462.10 182.72 L463.10 182.64 L464.10 182.55 L465.10 182.47 L466.10 182.38 L467.10 182.30 L468.10 182.22 L469.10 182.14 L470.10 182.06 L471.10 181.98 L472.10 181.90 L473.10 181.82 L474.10 181.74 L475.10 181.66 L476.10 181.58 L477.10 181.51 L478.10 181.43 L479.10 181.36 L480.10 181.29 L481.10 181.22 L482.10 181.15 L483.10 181.08 L484.10 181.01 L485.10 180.94 L486.10 180.88 L487.10 180.81 L488.10 180.75" stroke="#006400" stroke-width="2.20"/>
<path d="M80.20 197.00 L80.20 199.00 L80.21 201.00 L80.22 203.00 L80.23 205.00 L80.24 207.00 L80.25 209.00 L80.26 211.00 L80.27 213.00 L80.28 215.00 L80.30 217.00 L80.31 219.00 L80.33 221.00 L80.34 223.00 L80.36 225.00 L80.37 227.00 L80.39 229.00 L80.41 231.00 L80.43 233.00 L80.45 235.00 L80.48 237.00 L80.51 239.00 L80.55 241.00 L80.58 243.00 L80.62 245.00 L80.65 247.00 L80.69 249.00 L80.73 251.00 L80.77 253.00 L80.80 255.00 L80.84 257.00 L80.87 259.00 L80.90 261.00 L80.93 263.00 L80.95 265.00 L80.98 267.00 L80.99 269.00 L81.01 271.00 L81.02 273.00 L81.03 275.00 L81.04 277.00 L81.06 279.00 L81.07 281.00 L81.08 283.00 L81.09 285.00 L81.10 287.00 L81.11 289.00 L81.12 291.00 L81.13 293.00 L81.14 295.00 L81.15 297.00 L81.15 299.00 L81.16 301.00 L81.17 303.00 L81.18 305.00 L81.18 307.00 L81.19 309.00 L81.19 311.00 L81.19 313.00 L81.20 315.00 L81.20 317.00 L81.20 319.00 L81.20 321.00" stroke="#5f9ea0" stroke-width="2.10"/>
<path d="M198.60 321.04 L199.60 319.45 L200.60 317.88 L201.61 316.33 L202.61 314.78 L203.61 313.25 L204.61 311.73 L205.61 310.22 L206.61 308.73 L207.62 307.25 L208.62 305.77 L209.62 304.32 L210.62 302.87 L211.62 301.43 L212.62 300.01 L213.63 298.60 L214.63 297.20 L215.63 295.81 L216.63 294.44 L217.63 293.07 L218.63 291.72 L219.64 290.38 L220.64 289.05 L221.64 287.73 L222.64 286.42 L223.64 285.12 L224.64 283.84 L225.65 282.56 L226.65 281.30 L227.65 280.05 L228.65 278.81 L229.65 277.58 L230.66 276.36 L231.66 275.15 L232.66 273.95 L233.66 272.76 L234.66 271.59 L235.66 270.42 L236.67 269.27 L237.67 268.12 L238.67 266.99 L239.67 265.86 L240.67 264.75 L241.67 263.65 L242.68 262.55 L243.68 261.47 L244.68 260.40 L245.68 259.34 L246.68 258.32 L247.68 257.33 L248.69 256.38 L249.69 255.44 L250.69 254.53 L251.69 253.64 L252.69 252.76 L253.70 251.88 L254.70 251.01 L255.70 250.14 L256.70 249.26 L257.70 248.38 L258.70 247.51 L259.71 246.64 L260.71 245.78 L261.71 244.93 L262.71 244.08 L263.71 243.25 L264.71 242.42 L265.72 241.59 L266.72 240.78 L267.72 239.96 L268.72 239.16 L269.72 238.36 L270.72 237.57 L271.73 236.78 L272.73 236.01 L273.73 235.25 L274.73 234.49 L275.73 233.73 L276.73 232.98 L277.74 232.23 L278.74 231.48 L279.74 230.73 L280.74 229.98 L281.74 229.24 L282.75 228.51 L283.75 227.79 L284.75 227.07 L285.75 226.36 L286.75 225.66 L287.75 224.96 L288.76 224.27 L289.76 223.59 L290.76 222.92 L291.76 222.25 L292.76 221.60 L293.76 220.94 L294.77 220.30 L295.77 219.66 L296.77 219.03 L297.77 218.41 L298.77 217.79 L299.77 217.18 L300.78 216.57 L301.78 215.96 L302.78 215.34 L303.78 214.72 L304.78 214.10 L305.79 213.47 L306.79 212.85 L307.79 212.23 L308.79 211.61 L309.79 210.99 L310.79 210.37 L311.80 209.76 L312.80 209.15 L313.80 208.54 L314.80 207.95 L315.80 207.36 L316.80 206.78 L317.81 206.21 L318.81 205.65 L319.81 205.10 L320.81 204.56 L321.81 204.03 L322.81 203.51 L323.82 202.99 L324.82 202.47 L325.82 201.96 L326.82 201.45 L327.82 200.95 L328.82 200.45 L329.83 199.96 L330.83 199.47 L331.83 198.99 L332.83 198.51 L333.83 198.03 L334.84 197.56 L335.84 197.10 L336.84 196.64 L337.84 196.19 L338.84 195.74 L339.84 195.30 L340.85 194.86 L341.85 194.43 L342.85 194.01 L343.85 193.59 L344.85 193.18 L345.85 192.77 L346.86 192.37 L347.86 191.98 L348.86 191.59 L349.86 191.21 L350.86 190.84 L351.86 190.47 L352.87 190.12 L353.87 189.77 L354.87 189.42 L355.87 189.09 L356.87 188.76 L357.88 188.44 L358.88 188.13 L359.88 187.82 L360.88 187.52 L361.88 187.22 L362.88 186.93 L363.89 186.64 L364.89 186.36 L365.89 186.08 L366.89 185.80 L367.89 185.53 L368.89 185.26 L369.90 184.99 L370.90 184.72 L371.90 184.45 L372.90 184.19 L373.90 183.92 L374.90 183.66 L375.91 183.39 L376.91 183.13 L377.91 182.86 L378.91 182.59 L379.91 182.32 L380.91 182.05 L381.92 181.78 L382.92 181.50 L383.92 181.22 L384.92 180.94 L385.92 180.66 L386.93 180.38 L387.93 180.10 L388.93 179.82 L389.93 179.54 L390.93 179.26 L391.93 178.98 L392.94 178.70 L393.94 178.42 L394.94 178.15 L395.94 177.87 L396.94 177.60 L397.94 177.32 L398.95 177.05 L399.95 176.78 L400.95 176.50 L401.95 176.23 L402.95 175.97 L403.95 175.70 L404.96 175.43 L405.96 175.17 L406.96 174.91 L407.96 174.65 L408.96 174.39 L409.97 174.14 L410.97 173.88 L411.97 173.63 L412.97 173.38 L413.97 173.14 L414.97 172.89 L415.98 172.65 L416.98 172.40 L417.98 172.16 L418.98 171.91 L419.98 171.67 L420.98 171.43 L421.99 171.18 L422.99 170.94 L423.99 170.70 L424.99 170.46 L425.99 170.22 L426.99 169.99 L428.00 169.75 L429.00 169.51 L430.00 169.28 L431.00 169.05 L432.00 168.82 L433.00 168.59 L434.01 168.36 L435.01 168.14 L436.01 167.91 L437.01 167.69 L438.01 167.47 L439.02 167.26 L440.02 167.04 L441.02 166.83 L442.02 166.62 L443.02 166.41 L444.02 166.21 L445.03 166.01 L446.03 165.81 L447.03 165.61 L448.03 165.42 L449.03 165.23 L450.03 165.03 L451.04 164.85 L452.04 164.66 L453.04 164.47 L454.04 164.29 L455.04 164.10 L456.04 163.92 L457.05 163.74 L458.05 163.56 L459.05 163.38 L460.05 163.20 L461.05 163.02 L462.06 162.84 L463.06 162.67 L464.06 162.49 L465.06 162.31 L466.06 162.13 L467.06 161.95 L468.07 161.78 L469.07 161.60 L470.07 161.42 L471.07 161.24 L472.07 161.06 L473.07 160.88 L474.08 160.69 L475.08 160.51 L476.08 160.32 L477.08 160.14 L478.08 159.95 L479.08 159.76 L480.09 159.57 L481.09 159.37 L482.09 159.18 L483.09 158.98 L484.09 158.78 L485.09 158.58 L486.10 158.37 L487.10 158.16 L488.10 157.95" stroke="#5f9ea0" stroke-width="2.10"/>
<path d="M172.25 320.49 L173.25 317.06 L174.26 313.71 L175.26 310.45 L176.26 307.27 L177.26 304.17 L178.27 301.15 L179.27 298.21 L180.27 295.34 L181.27 292.54 L182.28 289.82 L183.28 287.16 L184.28 284.57 L185.29 282.05 L186.29 279.59 L187.29 277.19 L188.29 274.85 L189.30 272.57 L190.30 270.34 L191.30 268.17 L192.30 266.05 L193.31 263.98 L194.31 261.97 L195.31 259.99 L196.31 258.07 L197.32 256.18 L198.32 254.34 L199.32 252.54 L200.33 250.77 L201.33 249.04 L202.33 247.34 L203.33 245.68 L204.34 244.04 L205.34 242.44 L206.34 240.86 L207.34 239.30 L208.35 237.77 L209.35 236.26 L210.35 234.77 L211.36 233.29 L212.36 231.83 L213.36 230.38 L214.36 228.95 L215.37 227.53 L216.37 226.12 L217.37 224.73 L218.37 223.35 L219.38 221.98 L220.38 220.63 L221.38 219.29 L222.38 217.96 L223.39 216.64 L224.39 215.34 L225.39 214.04 L226.40 212.76 L227.40 211.50 L228.40 210.24 L229.40 209.00 L230.41 207.76 L231.41 206.54 L232.41 205.34 L233.41 204.14 L234.42 202.96 L235.42 201.78 L236.42 200.62 L237.43 199.47 L238.43 198.33 L239.43 197.20 L240.43 196.08 L241.44 194.98 L242.44 193.88 L243.44 192.80 L244.44 191.72 L245.45 190.66 L246.45 189.60 L247.45 188.56 L248.46 187.53 L249.46 186.51 L250.46 185.49 L251.46 184.49 L252.47 183.50 L253.47 182.52 L254.47 181.54 L255.47 180.58 L256.48 179.63 L257.48 178.68 L258.48 177.75 L259.48 176.82 L260.49 175.91 L261.49 175.00 L262.49 174.11 L263.50 173.22 L264.50 172.35 L265.50 171.48 L266.50 170.62 L267.51 169.77 L268.51 168.93 L269.51 168.10 L270.51 167.28 L271.52 166.47 L272.52 165.67 L273.52 164.88 L274.53 164.09 L275.53 163.32 L276.53 162.55 L277.53 161.80 L278.54 161.05 L279.54 160.31 L280.54 159.58 L281.54 158.86 L282.55 158.15 L283.55 157.44 L284.55 156.75 L285.55 156.06 L286.56 155.39 L287.56 154.72 L288.56 154.06 L289.57 153.41 L290.57 152.77 L291.57 152.13 L292.57 151.51 L293.58 150.89 L294.58 150.28 L295.58 149.68 L296.58 149.09 L297.59 148.51 L298.59 147.93 L299.59 147.36 L300.60 146.81 L301.60 146.26 L302.60 145.74 L303.60 145.22 L304.61 144.72 L305.61 144.24 L306.61 143.76 L307.61 143.30 L308.62 142.84 L309.62 142.39 L310.62 141.95 L311.63 141.52 L312.63 141.09 L313.63 140.67 L314.63 140.25 L315.64 139.84 L316.64 139.43 L317.64 139.04 L318.64 138.65 L319.65 138.27 L320.65 137.89 L321.65 137.53 L322.65 137.17 L323.66 136.82 L324.66 136.47 L325.66 136.14 L326.67 135.81 L327.67 135.49 L328.67 135.17 L329.67 134.87 L330.68 134.56 L331.68 134.27 L332.68 133.99 L333.68 133.71 L334.69 133.44 L335.69 133.17 L336.69 132.91 L337.70 132.66 L338.70 132.42 L339.70 132.18 L340.70 131.95 L341.71 131.72 L342.71 131.50 L343.71 131.29 L344.71 131.08 L345.72 130.88 L346.72 130.69 L347.72 130.50 L348.72 130.32 L349.73 130.15 L350.73 129.98 L351.73 129.82 L352.74 129.66 L353.74 129.51 L354.74 129.37 L355.74 129.23 L356.75 129.10 L357.75 128.97 L358.75 128.84 L359.75 128.72 L360.76 128.60 L361.76 128.48 L362.76 128.37 L363.77 128.26 L364.77 128.15 L365.77 128.05 L366.77 127.94 L367.78 127.84 L368.78 127.74 L369.78 127.64 L370.78 127.54 L371.79 127.44 L372.79 127.35 L373.79 127.25 L374.80 127.15 L375.80 127.05 L376.80 126.95 L377.80 126.85 L378.81 126.75 L379.81 126.65 L380.81 126.55 L381.81 126.44 L382.82 126.34 L383.82 126.24 L384.82 126.13 L385.82 126.03 L386.83 125.93 L387.83 125.82 L388.83 125.72 L389.84 125.62 L390.84 125.52 L391.84 125.41 L392.84 125.31 L393.85 125.21 L394.85 125.11 L395.85 125.01 L396.85 124.92 L397.86 124.82 L398.86 124.72 L399.86 124.63 L400.87 124.54 L401.87 124.45 L402.87 124.36 L403.87 124.27 L404.88 124.18 L405.88 124.10 L406.88 124.01 L407.88 123.93 L408.89 123.85 L409.89 123.77 L410.89 123.69 L411.89 123.60 L412.90 123.52 L413.90 123.43 L414.90 123.35 L415.91 123.26 L416.91 123.17 L417.91 123.08 L418.91 122.99 L419.92 122.90 L420.92 122.81 L421.92 122.72 L422.92 122.63 L423.93 122.54 L424.93 122.44 L425.93 122.35 L426.94 122.26 L427.94 122.16 L428.94 122.07 L429.94 121.97 L430.95 121.88 L431.95 121.78 L432.95 121.69 L433.95 121.59 L434.96 121.50 L435.96 121.40 L436.96 121.31 L437.97 121.21 L438.97 121.11 L439.97 121.02 L440.97 120.92 L441.98 120.83 L442.98 120.73 L443.98 120.64 L444.98 120.55 L445.99 120.45 L446.99 120.36 L447.99 120.27 L448.99 120.18 L450.00 120.08 L451.00 119.99 L452.00 119.90 L453.01 119.81 L454.01 119.72 L455.01 119.63 L456.01 119.54 L457.02 119.45 L458.02 119.37 L459.02 119.28 L460.02 119.19 L461.03 119.11 L462.03 119.02 L463.03 118.94 L464.04 118.86 L465.04 118.78 L466.04 118.69 L467.04 118.61 L468.05 118.53 L469.05 118.46 L470.05 118.38 L471.05 118.30 L472.06 118.22 L473.06 118.15 L474.06 118.08 L475.06 118.00 L476.07 117.93 L477.07 117.86 L478.07 117.79 L479.08 117.72 L480.08 117.66 L481.08 117.59 L482.08 117.53 L483.09 117.46 L484.09 117.40 L485.09 117.34 L486.09 117.28 L487.10 117.22 L488.10 117.16" stroke="#ffa500" stroke-width="2.20"/>
<path d="M80.20 24.80 L81.40 27.40 L82.60 29.30 L84.00 30.00 L84.00 30.00 L85.00 30.06 L86.00 30.10 L87.00 30.10 L88.00 30.10 L89.00 30.10 L90.00 30.10 L91.00 30.10 L92.00 30.10 L93.00 30.10 L94.00 30.10 L95.00 30.10 L96.00 30.10 L97.00 30.10 L98.00 30.10 L99.00 30.10 L100.00 30.10 L101.00 30.10 L102.00 30.10 L103.00 30.10 L104.00 30.10 L105.01 30.10 L106.01 30.10 L107.01 30.10 L108.01 30.09 L109.01 30.09 L110.01 30.09 L111.01 30.09 L112.01 30.09 L113.01 30.09 L114.01 30.08 L115.01 30.08 L116.01 30.08 L117.01 30.08 L118.01 30.08 L119.01 30.07 L120.01 30.07 L121.01 30.07 L122.01 30.06 L123.01 30.06 L124.01 30.06 L125.01 30.06 L126.01 30.05 L127.01 30.05 L128.01 30.05 L129.01 30.04 L130.01 30.04 L131.01 30.04 L132.01 30.03 L133.01 30.03 L134.01 30.02 L135.01 30.02 L136.01 30.02 L137.01 30.01 L138.01 30.01 L139.01 30.00 L140.01 30.00 L141.01 30.00 L142.01 29.99 L143.01 29.98 L144.01 29.98 L145.02 29.97 L146.02 29.96 L147.02 29.96 L148.02 29.95 L149.02 29.94 L150.02 29.93 L151.02 29.92 L152.02 29.91 L153.02 29.89 L154.02 29.88 L155.02 29.87 L156.02 29.86 L157.02 29.84 L158.02 29.83 L159.02 29.82 L160.02 29.80 L161.02 29.79 L162.02 29.77 L163.02 29.76 L164.02 29.74 L165.02 29.73 L166.02 29.71 L167.02 29.69 L168.02 29.68 L169.02 29.66 L170.02 29.64 L171.02 29.63 L172.02 29.61 L173.02 29.59 L174.02 29.57 L175.02 29.56 L176.02 29.54 L177.02 29.52 L178.02 29.50 L179.02 29.48 L180.02 29.47 L181.02 29.45 L182.02 29.43 L183.02 29.41 L184.02 29.39 L185.03 29.37 L186.03 29.36 L187.03 29.34 L188.03 29.32 L189.03 29.30 L190.03 29.29 L191.03 29.27 L192.03 29.25 L193.03 29.23 L194.03 29.22 L195.03 29.20 L196.03 29.18 L197.03 29.17 L198.03 29.15 L199.03 29.13 L200.03 29.12 L201.03 29.10 L202.03 29.09 L203.03 29.07 L204.03 29.05 L205.03 29.04 L206.03 29.02 L207.03 29.01 L208.03 28.99 L209.03 28.98 L210.03 28.96 L211.03 28.95 L212.03 28.93 L213.03 28.92 L214.03 28.90 L215.03 28.89 L216.03 28.87 L217.03 28.86 L218.03 28.84 L219.03 28.83 L220.03 28.81 L221.03 28.80 L222.03 28.78 L223.03 28.76 L224.03 28.75 L225.03 28.73 L226.04 28.72 L227.04 28.70 L228.04 28.68 L229.04 28.67 L230.04 28.65 L231.04 28.63 L232.04 28.61 L233.04 28.60 L234.04 28.58 L235.04 28.56 L236.04 28.54 L237.04 28.52 L238.04 28.50 L239.04 28.48 L240.04 28.46 L241.04 28.44 L242.04 28.42 L243.04 28.40 L244.04 28.37 L245.04 28.35 L246.04 28.33 L247.04 28.30 L248.04 28.28 L249.04 28.25 L250.04 28.22 L251.04 28.19 L252.04 28.16 L253.04 28.12 L254.04 28.09 L255.04 28.05 L256.04 28.02 L257.04 27.98 L258.04 27.94 L259.04 27.89 L260.04 27.85 L261.04 27.81 L262.04 27.76 L263.04 27.72 L264.04 27.67 L265.04 27.63 L266.05 27.58 L267.05 27.53 L268.05 27.49 L269.05 27.44 L270.05 27.40 L271.05 27.35 L272.05 27.31 L273.05 27.26 L274.05 27.22 L275.05 27.18 L276.05 27.13 L277.05 27.09 L278.05 27.05 L279.05 27.01 L280.05 26.97 L281.05 26.93 L282.05 26.89 L283.05 26.85 L284.05 26.81 L285.05 26.77 L286.05 26.74 L287.05 26.70 L288.05 26.66 L289.05 26.63 L290.05 26.60 L291.05 26.56 L292.05 26.53 L293.05 26.50 L294.05 26.46 L295.05 26.43 L296.05 26.39 L297.05 26.36 L298.05 26.32 L299.05 26.28 L300.05 26.24 L301.05 26.20 L302.05 26.16 L303.05 26.12 L304.05 26.08 L305.05 26.04 L306.05 26.00 L307.06 25.95 L308.06 25.91 L309.06 25.87 L310.06 25.83 L311.06 25.79 L312.06 25.75 L313.06 25.70 L314.06 25.66 L315.06 25.62 L316.06 25.58 L317.06 25.54 L318.06 25.50 L319.06 25.46 L320.06 25.43 L321.06 25.39 L322.06 25.35 L323.06 25.32 L324.06 25.28 L325.06 25.25 L326.06 25.21 L327.06 25.18 L328.06 25.15 L329.06 25.12 L330.06 25.08 L331.06 25.05 L332.06 25.02 L333.06 24.98 L334.06 24.95 L335.06 24.91 L336.06 24.88 L337.06 24.84 L338.06 24.81 L339.06 24.77 L340.06 24.74 L341.06 24.70 L342.06 24.67 L343.06 24.63 L344.06 24.60 L345.06 24.56 L346.06 24.53 L347.07 24.49 L348.07 24.46 L349.07 24.43 L350.07 24.39 L351.07 24.36 L352.07 24.33 L353.07 24.29 L354.07 24.26 L355.07 24.23 L356.07 24.20 L357.07 24.17 L358.07 24.14 L359.07 24.11 L360.07 24.08 L361.07 24.05 L362.07 24.02 L363.07 24.00 L364.07 23.97 L365.07 23.95 L366.07 23.92 L367.07 23.90 L368.07 23.88 L369.07 23.85 L370.07 23.83 L371.07 23.81 L372.07 23.79 L373.07 23.76 L374.07 23.74 L375.07 23.72 L376.07 23.70 L377.07 23.68 L378.07 23.66 L379.07 23.64 L380.07 23.62 L381.07 23.60 L382.07 23.58 L383.07 23.56 L384.07 23.54 L385.07 23.52 L386.07 23.50 L387.08 23.48 L388.08 23.46 L389.08 23.45 L390.08 23.43 L391.08 23.41 L392.08 23.39 L393.08 23.38 L394.08 23.36 L395.08 23.35 L396.08 23.33 L397.08 23.32 L398.08 23.30 L399.08 23.29 L400.08 23.27 L401.08 23.26 L402.08 23.25 L403.08 23.23 L404.08 23.22 L405.08 23.21 L406.08 23.20 L407.08 23.19 L408.08 23.18 L409.08 23.16 L410.08 23.15 L411.08 23.14 L412.08 23.13 L413.08 23.12 L414.08 23.11 L415.08 23.10 L416.08 23.10 L417.08 23.09 L418.08 23.08 L419.08 23.07 L420.08 23.06 L421.08 23.05 L422.08 23.05 L423.08 23.04 L424.08 23.03 L425.08 23.02 L426.08 23.02 L427.08 23.01 L428.09 23.00 L429.09 23.00 L430.09 22.99 L431.09 22.99 L432.09 22.98 L433.09 22.98 L434.09 22.97 L435.09 22.97 L436.09 22.96 L437.09 22.95 L438.09 22.95 L439.09 22.94 L440.09 22.94 L441.09 22.93 L442.09 22.93 L443.09 22.92 L444.09 22.92 L445.09 22.91 L446.09 22.91 L447.09 22.90 L448.09 22.90 L449.09 22.89 L450.09 22.89 L451.09 22.88 L452.09 22.88 L453.09 22.87 L454.09 22.87 L455.09 22.86 L456.09 22.86 L457.09 22.85 L458.09 22.85 L459.09 22.84 L460.09 22.84 L461.09 22.83 L462.09 22.83 L463.09 22.83 L464.09 22.82 L465.09 22.82 L466.09 22.81 L467.09 22.81 L468.10 22.80 L469.10 22.80 L470.10 22.79 L471.10 22.79 L472.10 22.78 L473.10 22.78 L474.10 22.77 L475.10 22.77 L476.10 22.76 L477.10 22.76 L478.10 22.75 L479.10 22.75 L480.10 22.74 L481.10 22.74 L482.10 22.73 L483.10 22.73 L484.10 22.72 L485.10 22.72 L486.10 22.71 L487.10 22.71 L488.10 22.70" stroke="#0000ff" stroke-width="2.55"/>
<path d="M80.20 164.40 L81.20 163.64 L82.20 162.96 L83.21 162.47 L84.21 162.03 L85.21 161.62 L86.21 161.24 L87.22 160.89 L88.22 160.56 L89.22 160.25 L90.22 159.95 L91.22 159.67 L92.23 159.39 L93.23 159.13 L94.23 158.87 L95.23 158.61 L96.24 158.35 L97.24 158.08 L98.24 157.81 L99.24 157.52 L100.24 157.23 L101.25 156.93 L102.25 156.63 L103.25 156.33 L104.25 156.04 L105.26 155.75 L106.26 155.46 L107.26 155.18 L108.26 154.89 L109.26 154.61 L110.27 154.33 L111.27 154.05 L112.27 153.77 L113.27 153.49 L114.28 153.21 L115.28 152.93 L116.28 152.65 L117.28 152.38 L118.28 152.10 L119.29 151.82 L120.29 151.54 L121.29 151.27 L122.29 150.99 L123.30 150.71 L124.30 150.43 L125.30 150.15 L126.30 149.87 L127.30 149.59 L128.31 149.30 L129.31 149.02 L130.31 148.73 L131.31 148.45 L132.31 148.17 L133.32 147.89 L134.32 147.62 L135.32 147.35 L136.32 147.08 L137.33 146.81 L138.33 146.54 L139.33 146.27 L140.33 145.99 L141.33 145.72 L142.34 145.44 L143.34 145.16 L144.34 144.87 L145.34 144.58 L146.35 144.28 L147.35 143.97 L148.35 143.66 L149.35 143.34 L150.35 143.01 L151.36 142.68 L152.36 142.35 L153.36 142.01 L154.36 141.68 L155.37 141.34 L156.37 141.00 L157.37 140.66 L158.37 140.32 L159.37 139.97 L160.38 139.63 L161.38 139.29 L162.38 138.94 L163.38 138.59 L164.39 138.25 L165.39 137.90 L166.39 137.55 L167.39 137.20 L168.39 136.85 L169.40 136.50 L170.40 136.14 L171.40 135.79 L172.40 135.44 L173.41 135.09 L174.41 134.74 L175.41 134.38 L176.41 134.03 L177.41 133.68 L178.42 133.33 L179.42 132.97 L180.42 132.62 L181.42 132.27 L182.43 131.92 L183.43 131.57 L184.43 131.22 L185.43 130.87 L186.43 130.52 L187.44 130.17 L188.44 129.83 L189.44 129.48 L190.44 129.13 L191.45 128.79 L192.45 128.45 L193.45 128.10 L194.45 127.76 L195.45 127.42 L196.46 127.08 L197.46 126.75 L198.46 126.41 L199.46 126.08 L200.47 125.75 L201.47 125.41 L202.47 125.08 L203.47 124.75 L204.47 124.41 L205.48 124.08 L206.48 123.75 L207.48 123.42 L208.48 123.09 L209.49 122.76 L210.49 122.44 L211.49 122.11 L212.49 121.79 L213.49 121.46 L214.50 121.14 L215.50 120.82 L216.50 120.50 L217.50 120.18 L218.51 119.86 L219.51 119.55 L220.51 119.23 L221.51 118.92 L222.51 118.61 L223.52 118.30 L224.52 117.99 L225.52 117.68 L226.52 117.38 L227.53 117.08 L228.53 116.77 L229.53 116.47 L230.53 116.17 L231.53 115.88 L232.54 115.58 L233.54 115.29 L234.54 115.00 L235.54 114.71 L236.54 114.42 L237.55 114.14 L238.55 113.86 L239.55 113.58 L240.55 113.30 L241.56 113.02 L242.56 112.74 L243.56 112.46 L244.56 112.18 L245.56 111.91 L246.57 111.63 L247.57 111.35 L248.57 111.07 L249.57 110.80 L250.58 110.52 L251.58 110.24 L252.58 109.97 L253.58 109.69 L254.58 109.42 L255.59 109.15 L256.59 108.88 L257.59 108.61 L258.59 108.34 L259.60 108.08 L260.60 107.82 L261.60 107.56 L262.60 107.31 L263.60 107.05 L264.61 106.80 L265.61 106.56 L266.61 106.31 L267.61 106.07 L268.62 105.83 L269.62 105.59 L270.62 105.36 L271.62 105.12 L272.62 104.89 L273.63 104.66 L274.63 104.44 L275.63 104.22 L276.63 104.00 L277.64 103.78 L278.64 103.57 L279.64 103.36 L280.64 103.16 L281.64 102.96 L282.65 102.76 L283.65 102.56 L284.65 102.37 L285.65 102.18 L286.66 102.00 L287.66 101.81 L288.66 101.64 L289.66 101.46 L290.66 101.29 L291.67 101.12 L292.67 100.96 L293.67 100.80 L294.67 100.64 L295.68 100.48 L296.68 100.33 L297.68 100.18 L298.68 100.03 L299.68 99.88 L300.69 99.74 L301.69 99.60 L302.69 99.46 L303.69 99.33 L304.70 99.19 L305.70 99.06 L306.70 98.93 L307.70 98.80 L308.70 98.67 L309.71 98.54 L310.71 98.41 L311.71 98.29 L312.71 98.16 L313.72 98.04 L314.72 97.92 L315.72 97.80 L316.72 97.68 L317.72 97.56 L318.73 97.44 L319.73 97.32 L320.73 97.21 L321.73 97.10 L322.74 96.98 L323.74 96.87 L324.74 96.77 L325.74 96.66 L326.74 96.56 L327.75 96.45 L328.75 96.35 L329.75 96.26 L330.75 96.16 L331.76 96.07 L332.76 95.98 L333.76 95.89 L334.76 95.80 L335.76 95.71 L336.77 95.62 L337.77 95.54 L338.77 95.45 L339.77 95.37 L340.77 95.29 L341.78 95.21 L342.78 95.13 L343.78 95.05 L344.78 94.98 L345.79 94.91 L346.79 94.84 L347.79 94.78 L348.79 94.72 L349.79 94.67 L350.80 94.61 L351.80 94.56 L352.80 94.51 L353.80 94.45 L354.81 94.40 L355.81 94.35 L356.81 94.30 L357.81 94.24 L358.81 94.19 L359.82 94.14 L360.82 94.09 L361.82 94.05 L362.82 94.00 L363.83 93.95 L364.83 93.91 L365.83 93.87 L366.83 93.83 L367.83 93.79 L368.84 93.75 L369.84 93.72 L370.84 93.69 L371.84 93.66 L372.85 93.64 L373.85 93.62 L374.85 93.60 L375.85 93.58 L376.85 93.57 L377.86 93.55 L378.86 93.54 L379.86 93.52 L380.86 93.51 L381.87 93.49 L382.87 93.47 L383.87 93.46 L384.87 93.44 L385.87 93.43 L386.88 93.41 L387.88 93.40 L388.88 93.38 L389.88 93.37 L390.89 93.36 L391.89 93.34 L392.89 93.33 L393.89 93.32 L394.89 93.31 L395.90 93.30 L396.90 93.29 L397.90 93.28 L398.90 93.27 L399.91 93.26 L400.91 93.25 L401.91 93.24 L402.91 93.24 L403.91 93.23 L404.92 93.22 L405.92 93.21 L406.92 93.20 L407.92 93.20 L408.93 93.19 L409.93 93.18 L410.93 93.18 L411.93 93.17 L412.93 93.16 L413.94 93.16 L414.94 93.15 L415.94 93.14 L416.94 93.14 L417.95 93.13 L418.95 93.13 L419.95 93.12 L420.95 93.12 L421.95 93.12 L422.96 93.11 L423.96 93.11 L424.96 93.11 L425.96 93.10 L426.97 93.10 L427.97 93.10 L428.97 93.10 L429.97 93.10 L430.97 93.10 L431.98 93.10 L432.98 93.10 L433.98 93.10 L434.98 93.10 L435.99 93.10 L436.99 93.10 L437.99 93.11 L438.99 93.11 L439.99 93.11 L441.00 93.11 L442.00 93.11 L443.00 93.11 L444.00 93.11 L445.00 93.12 L446.01 93.12 L447.01 93.12 L448.01 93.12 L449.01 93.13 L450.02 93.13 L451.02 93.13 L452.02 93.13 L453.02 93.13 L454.02 93.14 L455.03 93.14 L456.03 93.14 L457.03 93.14 L458.03 93.15 L459.04 93.15 L460.04 93.15 L461.04 93.16 L462.04 93.16 L463.04 93.16 L464.05 93.16 L465.05 93.17 L466.05 93.17 L467.05 93.17 L468.06 93.17 L469.06 93.17 L470.06 93.18 L471.06 93.18 L472.06 93.18 L473.07 93.18 L474.07 93.19 L475.07 93.19 L476.07 93.19 L477.08 93.19 L478.08 93.19 L479.08 93.19 L480.08 93.19 L481.08 93.20 L482.09 93.20 L483.09 93.20 L484.09 93.20 L485.09 93.20 L486.10 93.20 L487.10 93.20 L488.10 93.20" stroke="#a020f0" stroke-width="2.70" stroke-dasharray="3.4 1.5"/>
<path d="M80.20 97.50 L80.22 99.51 L80.23 101.53 L80.25 103.54 L80.27 105.55 L80.29 107.57 L80.31 109.58 L80.33 111.60 L80.35 113.61 L80.37 115.62 L80.39 117.64 L80.41 119.65 L80.44 121.66 L80.46 123.68 L80.48 125.69 L80.51 127.71 L80.53 129.72 L80.56 131.73 L80.58 133.75 L80.61 135.76 L80.63 137.77 L80.66 139.79 L80.69 141.80 L80.71 143.82 L80.74 145.83 L80.77 147.84 L80.80 149.86 L80.83 151.87 L80.86 153.88 L80.89 155.90 L80.92 157.91 L80.95 159.92 L80.98 161.94 L81.01 163.95 L81.04 165.97 L81.08 167.98 L81.11 169.99 L81.15 172.01 L81.18 174.02 L81.22 176.03 L81.26 178.05 L81.30 180.06 L81.34 182.08 L81.38 184.09 L81.42 186.10 L81.46 188.12 L81.50 190.13 L81.55 192.14 L81.59 194.16 L81.64 196.17 L81.69 198.18 L81.75 200.20 L81.80 202.21 L81.85 204.23 L81.91 206.24 L81.97 208.25 L82.03 210.27 L82.09 212.28 L82.14 214.29 L82.20 216.31 L82.26 218.32 L82.32 220.34 L82.38 222.35 L82.44 224.36 L82.50 226.38 L82.56 228.39 L82.61 230.40 L82.67 232.42 L82.72 234.43 L82.78 236.45 L82.83 238.46 L82.89 240.47 L82.94 242.49 L83.00 244.50" stroke="#ff0000" stroke-width="2.00" stroke-dasharray="3.4 1.5"/>
<path d="M83.00 243.51 L84.00 242.68 L85.00 241.86 L86.00 241.05 L87.00 240.25 L88.00 239.47 L89.00 238.70 L90.00 237.94 L91.00 237.18 L92.00 236.44 L93.00 235.71 L94.00 234.98 L95.00 234.27 L96.00 233.55 L97.00 232.85 L98.00 232.15 L99.00 231.45 L100.00 230.75 L101.00 230.06 L102.00 229.37 L103.00 228.68 L104.01 228.00 L105.01 227.31 L106.01 226.62 L107.01 225.93 L108.01 225.23 L109.01 224.53 L110.01 223.83 L111.01 223.13 L112.01 222.43 L113.01 221.73 L114.01 221.04 L115.01 220.35 L116.01 219.66 L117.01 218.97 L118.01 218.28 L119.01 217.60 L120.01 216.91 L121.01 216.23 L122.01 215.54 L123.01 214.86 L124.01 214.18 L125.01 213.50 L126.01 212.82 L127.01 212.13 L128.01 211.45 L129.01 210.77 L130.01 210.08 L131.01 209.40 L132.01 208.71 L133.01 208.02 L134.01 207.33 L135.01 206.64 L136.01 205.94 L137.01 205.25 L138.01 204.55 L139.01 203.84 L140.01 203.14 L141.01 202.43 L142.01 201.71 L143.01 200.98 L144.02 200.24 L145.02 199.50 L146.02 198.75 L147.02 198.00 L148.02 197.24 L149.02 196.47 L150.02 195.70 L151.02 194.93 L152.02 194.15 L153.02 193.37 L154.02 192.59 L155.02 191.80 L156.02 191.02 L157.02 190.23 L158.02 189.44 L159.02 188.66 L160.02 187.87 L161.02 187.09 L162.02 186.30 L163.02 185.52 L164.02 184.73 L165.02 183.92 L166.02 183.11 L167.02 182.30 L168.02 181.50 L169.02 180.73 L170.02 179.99 L171.02 179.26 L172.02 178.54 L173.02 177.82 L174.02 177.09 L175.02 176.37 L176.02 175.64 L177.02 174.91 L178.02 174.19 L179.02 173.46 L180.02 172.73 L181.02 172.00 L182.02 171.27 L183.02 170.54 L184.02 169.81 L185.03 169.07 L186.03 168.34 L187.03 167.60 L188.03 166.87 L189.03 166.13 L190.03 165.39 L191.03 164.65 L192.03 163.90 L193.03 163.16 L194.03 162.42 L195.03 161.67 L196.03 160.93 L197.03 160.19 L198.03 159.45 L199.03 158.70 L200.03 157.96 L201.03 157.22 L202.03 156.48 L203.03 155.75 L204.03 155.03 L205.03 154.31 L206.03 153.61 L207.03 152.91 L208.03 152.22 L209.03 151.54 L210.03 150.87 L211.03 150.20 L212.03 149.54 L213.03 148.88 L214.03 148.23 L215.03 147.58 L216.03 146.93 L217.03 146.29 L218.03 145.65 L219.03 145.01 L220.03 144.37 L221.03 143.73 L222.03 143.09 L223.03 142.45 L224.03 141.80 L225.04 141.16 L226.04 140.52 L227.04 139.88 L228.04 139.25 L229.04 138.62 L230.04 138.00 L231.04 137.39 L232.04 136.79 L233.04 136.19 L234.04 135.60 L235.04 135.01 L236.04 134.43 L237.04 133.86 L238.04 133.29 L239.04 132.73 L240.04 132.18 L241.04 131.63 L242.04 131.09 L243.04 130.55 L244.04 130.02 L245.04 129.50 L246.04 128.98 L247.04 128.46 L248.04 127.95 L249.04 127.44 L250.04 126.93 L251.04 126.43 L252.04 125.93 L253.04 125.43 L254.04 124.94 L255.04 124.45 L256.04 123.97 L257.04 123.49 L258.04 123.01 L259.04 122.53 L260.04 122.06 L261.04 121.60 L262.04 121.13 L263.04 120.68 L264.04 120.22 L265.04 119.77 L266.05 119.32 L267.05 118.88 L268.05 118.44 L269.05 118.01 L270.05 117.58 L271.05 117.15 L272.05 116.73 L273.05 116.32 L274.05 115.90 L275.05 115.50 L276.05 115.09 L277.05 114.70 L278.05 114.30 L279.05 113.91 L280.05 113.53 L281.05 113.14 L282.05 112.75 L283.05 112.36 L284.05 111.97 L285.05 111.58 L286.05 111.19 L287.05 110.80 L288.05 110.42 L289.05 110.03 L290.05 109.65 L291.05 109.26 L292.05 108.88 L293.05 108.50 L294.05 108.13 L295.05 107.76 L296.05 107.39 L297.05 107.02 L298.05 106.66 L299.05 106.31 L300.05 105.96 L301.05 105.62 L302.05 105.28 L303.05 104.94 L304.05 104.62 L305.05 104.30 L306.06 103.99 L307.06 103.69 L308.06 103.39 L309.06 103.10 L310.06 102.82 L311.06 102.55 L312.06 102.28 L313.06 102.01 L314.06 101.75 L315.06 101.48 L316.06 101.22 L317.06 100.96 L318.06 100.71 L319.06 100.45 L320.06 100.20 L321.06 99.95 L322.06 99.71 L323.06 99.46 L324.06 99.22 L325.06 98.98 L326.06 98.74 L327.06 98.50 L328.06 98.26 L329.06 98.03 L330.06 97.80 L331.06 97.56 L332.06 97.34 L333.06 97.11 L334.06 96.88 L335.06 96.66 L336.06 96.44 L337.06 96.21 L338.06 95.99 L339.06 95.77 L340.06 95.56 L341.06 95.34 L342.06 95.12 L343.06 94.91 L344.06 94.69 L345.06 94.47 L346.06 94.25 L347.07 94.03 L348.07 93.81 L349.07 93.59 L350.07 93.37 L351.07 93.15 L352.07 92.93 L353.07 92.71 L354.07 92.49 L355.07 92.28 L356.07 92.06 L357.07 91.85 L358.07 91.64 L359.07 91.43 L360.07 91.22 L361.07 91.01 L362.07 90.81 L363.07 90.61 L364.07 90.41 L365.07 90.22 L366.07 90.03 L367.07 89.84 L368.07 89.66 L369.07 89.48 L370.07 89.30 L371.07 89.13 L372.07 88.97 L373.07 88.80 L374.07 88.64 L375.07 88.48 L376.07 88.32 L377.07 88.16 L378.07 88.01 L379.07 87.85 L380.07 87.70 L381.07 87.55 L382.07 87.40 L383.07 87.25 L384.07 87.10 L385.07 86.96 L386.07 86.81 L387.08 86.67 L388.08 86.53 L389.08 86.39 L390.08 86.25 L391.08 86.11 L392.08 85.97 L393.08 85.83 L394.08 85.70 L395.08 85.56 L396.08 85.43 L397.08 85.30 L398.08 85.17 L399.08 85.04 L400.08 84.91 L401.08 84.78 L402.08 84.65 L403.08 84.53 L404.08 84.40 L405.08 84.27 L406.08 84.15 L407.08 84.03 L408.08 83.90 L409.08 83.78 L410.08 83.66 L411.08 83.54 L412.08 83.42 L413.08 83.30 L414.08 83.18 L415.08 83.07 L416.08 82.95 L417.08 82.83 L418.08 82.71 L419.08 82.60 L420.08 82.48 L421.08 82.37 L422.08 82.25 L423.08 82.14 L424.08 82.02 L425.08 81.91 L426.08 81.80 L427.08 81.68 L428.09 81.57 L429.09 81.46 L430.09 81.34 L431.09 81.23 L432.09 81.12 L433.09 81.01 L434.09 80.90 L435.09 80.78 L436.09 80.67 L437.09 80.56 L438.09 80.45 L439.09 80.34 L440.09 80.23 L441.09 80.12 L442.09 80.02 L443.09 79.91 L444.09 79.80 L445.09 79.69 L446.09 79.58 L447.09 79.47 L448.09 79.37 L449.09 79.26 L450.09 79.15 L451.09 79.04 L452.09 78.94 L453.09 78.83 L454.09 78.72 L455.09 78.62 L456.09 78.51 L457.09 78.41 L458.09 78.30 L459.09 78.19 L460.09 78.09 L461.09 77.98 L462.09 77.88 L463.09 77.77 L464.09 77.67 L465.09 77.56 L466.09 77.46 L467.09 77.35 L468.10 77.25 L469.10 77.14 L470.10 77.04 L471.10 76.94 L472.10 76.83 L473.10 76.73 L474.10 76.62 L475.10 76.52 L476.10 76.41 L477.10 76.31 L478.10 76.21 L479.10 76.10 L480.10 76.00 L481.10 75.89 L482.10 75.79 L483.10 75.68 L484.10 75.58 L485.10 75.48 L486.10 75.37 L487.10 75.27 L488.10 75.16" stroke="#ff0000" stroke-width="2.70" stroke-dasharray="3.4 1.5"/>
</g>
<path d="M153.5 237.2L153.5 297.2" stroke="#000" stroke-width="0.7" fill="none"/>
<text x="406.1" y="41.8" fill="#0000ff" stroke="#0000ff" stroke-width="0.30" font-family="Liberation Sans, sans-serif" textLength="31.8" lengthAdjust="spacingAndGlyphs"><tspan font-size="16.4">SiO</tspan></text>
<text x="406.3" y="70.8" fill="#ff0000" stroke="#ff0000" stroke-width="0.30" font-family="Liberation Sans, sans-serif" textLength="52.9" lengthAdjust="spacingAndGlyphs"><tspan font-size="16.4">H</tspan><tspan font-size="13.2" dy="4.7">2</tspan><tspan dy="-4.7" font-size="1">&#8203;</tspan><tspan font-size="16.4">SiO</tspan></text>
<text x="406.8" y="111.8" fill="#a020f0" stroke="#a020f0" stroke-width="0.30" font-family="Liberation Sans, sans-serif" textLength="44.1" lengthAdjust="spacingAndGlyphs"><tspan font-size="16.4">HSiO</tspan></text>
<text x="365.5" y="143.8" fill="#ffa500" stroke="#ffa500" stroke-width="0.30" font-family="Liberation Sans, sans-serif" textLength="81.9" lengthAdjust="spacingAndGlyphs"><tspan font-size="16.4">Mg</tspan><tspan font-size="13.2" dy="5.4">4</tspan><tspan dy="-5.4" font-size="1">&#8203;</tspan><tspan font-size="16.4">Si</tspan><tspan font-size="13.2" dy="5.4">2</tspan><tspan dy="-5.4" font-size="1">&#8203;</tspan><tspan font-size="16.4">O</tspan><tspan font-size="13.2" dy="5.4">8</tspan><tspan dy="-5.4" font-size="1">&#8203;</tspan></text>
<text x="303.9" y="176.2" fill="#5f9ea0" stroke="#5f9ea0" stroke-width="0.30" font-family="Liberation Sans, sans-serif" textLength="69.6" lengthAdjust="spacingAndGlyphs"><tspan font-size="16.4">H</tspan><tspan font-size="13.2" dy="5.4">2</tspan><tspan dy="-5.4" font-size="1">&#8203;</tspan><tspan font-size="16.4">Si</tspan><tspan font-size="13.2" dy="5.4">2</tspan><tspan dy="-5.4" font-size="1">&#8203;</tspan><tspan font-size="16.4">O</tspan><tspan font-size="13.2" dy="5.4">3</tspan><tspan dy="-5.4" font-size="1">&#8203;</tspan></text>
<text x="385.8" y="204.6" fill="#006400" stroke="#006400" stroke-width="0.30" font-family="Liberation Sans, sans-serif" textLength="73.8" lengthAdjust="spacingAndGlyphs"><tspan font-size="16.4">MgSi</tspan><tspan font-size="13.2" dy="5.4">2</tspan><tspan dy="-5.4" font-size="1">&#8203;</tspan><tspan font-size="16.4">O</tspan><tspan font-size="13.2" dy="5.4">3</tspan><tspan dy="-5.4" font-size="1">&#8203;</tspan></text>
<text x="394.5" y="227.2" fill="#20b2aa" stroke="#20b2aa" stroke-width="0.30" font-family="Liberation Sans, sans-serif" textLength="81.7" lengthAdjust="spacingAndGlyphs"><tspan font-size="16.4">Mg</tspan><tspan font-size="13.2" dy="5.4">2</tspan><tspan dy="-5.4" font-size="1">&#8203;</tspan><tspan font-size="16.4">Si</tspan><tspan font-size="13.2" dy="5.4">2</tspan><tspan dy="-5.4" font-size="1">&#8203;</tspan><tspan font-size="16.4">O</tspan><tspan font-size="13.2" dy="5.4">6</tspan><tspan dy="-5.4" font-size="1">&#8203;</tspan></text>
<text x="303.9" y="235.0" fill="#a020f0" stroke="#a020f0" stroke-width="0.30" font-family="Liberation Sans, sans-serif" textLength="47.2" lengthAdjust="spacingAndGlyphs"><tspan font-size="16.4">Si</tspan><tspan font-size="13.2" dy="5.4">2</tspan><tspan dy="-5.4" font-size="1">&#8203;</tspan><tspan font-size="16.4">O</tspan><tspan font-size="13.2" dy="5.4">3</tspan><tspan dy="-5.4" font-size="1">&#8203;</tspan></text>
<text x="133.0" y="233.1" fill="#a52a2a" stroke="#a52a2a" stroke-width="0.30" font-family="Liberation Sans, sans-serif" textLength="47.8" lengthAdjust="spacingAndGlyphs"><tspan font-size="16.4">Si</tspan><tspan font-size="13.2" dy="4.7">2</tspan><tspan dy="-4.7" font-size="1">&#8203;</tspan><tspan font-size="16.4">O</tspan><tspan font-size="13.2" dy="4.7">2</tspan><tspan dy="-4.7" font-size="1">&#8203;</tspan></text>
<text x="104.6" y="254.0" fill="#000000" stroke="#000000" stroke-width="0.30" font-family="Liberation Sans, sans-serif" textLength="39.3" lengthAdjust="spacingAndGlyphs"><tspan font-size="16.4">SiO</tspan><tspan font-size="13.2" dy="5.1">2</tspan><tspan dy="-5.1" font-size="1">&#8203;</tspan></text>
<text x="385.5" y="293.8" fill="#ff0000" stroke="#ff0000" stroke-width="0.30" font-family="Liberation Sans, sans-serif" textLength="69.9" lengthAdjust="spacingAndGlyphs"><tspan font-size="16.4">Si</tspan><tspan font-size="13.2" dy="5.4">2</tspan><tspan dy="-5.4" font-size="1">&#8203;</tspan><tspan font-size="16.4">O</tspan><tspan font-size="13.2" dy="5.4">4</tspan><tspan dy="-5.4" font-size="1">&#8203;</tspan><tspan font-size="16.4">H</tspan><tspan font-size="13.2" dy="5.4">2</tspan><tspan dy="-5.4" font-size="1">&#8203;</tspan></text>
<text x="34.6" y="22.7" fill="#000" stroke="#000" stroke-width="0.30" font-family="Liberation Sans, sans-serif" textLength="39.1" lengthAdjust="spacingAndGlyphs"><tspan font-size="18.6">10</tspan><tspan font-size="16.8" dy="-9.3">-4</tspan><tspan dy="9.3" font-size="1">&#8203;</tspan></text>
<text x="34.6" y="53.3" fill="#000" stroke="#000" stroke-width="0.30" font-family="Liberation Sans, sans-serif" textLength="39.1" lengthAdjust="spacingAndGlyphs"><tspan font-size="18.6">10</tspan><tspan font-size="16.8" dy="-9.3">-5</tspan><tspan dy="9.3" font-size="1">&#8203;</tspan></text>
<text x="34.6" y="83.9" fill="#000" stroke="#000" stroke-width="0.30" font-family="Liberation Sans, sans-serif" textLength="39.1" lengthAdjust="spacingAndGlyphs"><tspan font-size="18.6">10</tspan><tspan font-size="16.8" dy="-9.3">-6</tspan><tspan dy="9.3" font-size="1">&#8203;</tspan></text>
<text x="34.6" y="114.5" fill="#000" stroke="#000" stroke-width="0.30" font-family="Liberation Sans, sans-serif" textLength="39.1" lengthAdjust="spacingAndGlyphs"><tspan font-size="18.6">10</tspan><tspan font-size="16.8" dy="-9.3">-7</tspan><tspan dy="9.3" font-size="1">&#8203;</tspan></text>
<text x="34.6" y="145.1" fill="#000" stroke="#000" stroke-width="0.30" font-family="Liberation Sans, sans-serif" textLength="39.1" lengthAdjust="spacingAndGlyphs"><tspan font-size="18.6">10</tspan><tspan font-size="16.8" dy="-9.3">-8</tspan><tspan dy="9.3" font-size="1">&#8203;</tspan></text>
<text x="34.6" y="175.7" fill="#000" stroke="#000" stroke-width="0.30" font-family="Liberation Sans, sans-serif" textLength="39.1" lengthAdjust="spacingAndGlyphs"><tspan font-size="18.6">10</tspan><tspan font-size="16.8" dy="-9.3">-9</tspan><tspan dy="9.3" font-size="1">&#8203;</tspan></text>
<text x="25.2" y="206.3" fill="#000" stroke="#000" stroke-width="0.30" font-family="Liberation Sans, sans-serif" textLength="48.5" lengthAdjust="spacingAndGlyphs"><tspan font-size="18.6">10</tspan><tspan font-size="16.8" dy="-9.3">-10</tspan><tspan dy="9.3" font-size="1">&#8203;</tspan></text>
<text x="25.2" y="236.9" fill="#000" stroke="#000" stroke-width="0.30" font-family="Liberation Sans, sans-serif" textLength="48.5" lengthAdjust="spacingAndGlyphs"><tspan font-size="18.6">10</tspan><tspan font-size="16.8" dy="-9.3">-11</tspan><tspan dy="9.3" font-size="1">&#8203;</tspan></text>
<text x="25.2" y="267.5" fill="#000" stroke="#000" stroke-width="0.30" font-family="Liberation Sans, sans-serif" textLength="48.5" lengthAdjust="spacingAndGlyphs"><tspan font-size="18.6">10</tspan><tspan font-size="16.8" dy="-9.3">-12</tspan><tspan dy="9.3" font-size="1">&#8203;</tspan></text>
<text x="25.2" y="298.1" fill="#000" stroke="#000" stroke-width="0.30" font-family="Liberation Sans, sans-serif" textLength="48.5" lengthAdjust="spacingAndGlyphs"><tspan font-size="18.6">10</tspan><tspan font-size="16.8" dy="-9.3">-13</tspan><tspan dy="9.3" font-size="1">&#8203;</tspan></text>
<text x="25.2" y="328.7" fill="#000" stroke="#000" stroke-width="0.30" font-family="Liberation Sans, sans-serif" textLength="48.5" lengthAdjust="spacingAndGlyphs"><tspan font-size="18.6">10</tspan><tspan font-size="16.8" dy="-9.3">-14</tspan><tspan dy="9.3" font-size="1">&#8203;</tspan></text>
<text x="76.7" y="337.9" fill="#000" stroke="#000" stroke-width="0.30" font-family="Liberation Sans, sans-serif" textLength="12.9" lengthAdjust="spacingAndGlyphs"><tspan font-size="19.0">0</tspan></text>
<text x="149.3" y="337.9" fill="#000" stroke="#000" stroke-width="0.30" font-family="Liberation Sans, sans-serif" textLength="30.6" lengthAdjust="spacingAndGlyphs"><tspan font-size="19.0">0.2</tspan></text>
<text x="230.9" y="337.9" fill="#000" stroke="#000" stroke-width="0.30" font-family="Liberation Sans, sans-serif" textLength="30.7" lengthAdjust="spacingAndGlyphs"><tspan font-size="19.0">0.4</tspan></text>
<text x="312.5" y="337.9" fill="#000" stroke="#000" stroke-width="0.30" font-family="Liberation Sans, sans-serif" textLength="30.7" lengthAdjust="spacingAndGlyphs"><tspan font-size="19.0">0.6</tspan></text>
<text x="394.1" y="337.9" fill="#000" stroke="#000" stroke-width="0.30" font-family="Liberation Sans, sans-serif" textLength="30.7" lengthAdjust="spacingAndGlyphs"><tspan font-size="19.0">0.8</tspan></text>
<text x="487.5" y="337.9" fill="#000" stroke="#000" stroke-width="0.30" font-family="Liberation Sans, sans-serif" textLength="8.2" lengthAdjust="spacingAndGlyphs"><tspan font-size="19.0">1</tspan></text>
<text x="243.0" y="356.5" fill="#000" font-family="Liberation Sans, sans-serif" font-size="19" stroke="#000" stroke-width="0.3" textLength="60.5" lengthAdjust="spacingAndGlyphs">Phase</text>
<text x="309.4" y="356.5" fill="#000" font-family="Liberation Serif, serif" font-size="17" stroke="#000" stroke-width="0.2" textLength="16.0" lengthAdjust="spacingAndGlyphs">&#934;</text>
<text transform="translate(21.3 216.8) rotate(-90) scale(1 1.07)" fill="#000" stroke="#000" stroke-width="0.3" font-family="Liberation Sans, sans-serif" font-size="19" textLength="100" lengthAdjust="spacingAndGlyphs">Abundance</text>
</svg></body></html>
